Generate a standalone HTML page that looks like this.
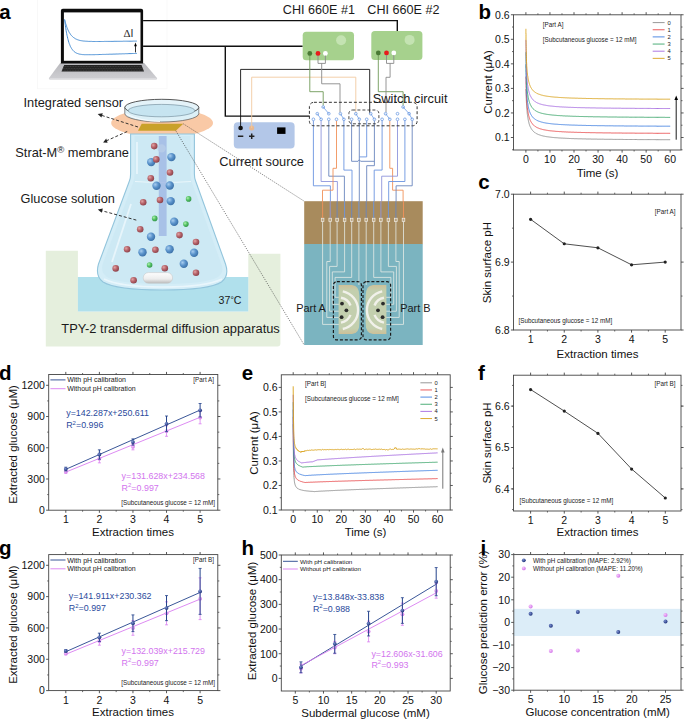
<!DOCTYPE html><html><head><meta charset="utf-8"><style>html,body{margin:0;padding:0;background:#fff;width:685px;height:719px;overflow:hidden}svg{display:block}</style></head><body>
<svg width="685" height="719" viewBox="0 0 685 719" font-family="Liberation Sans, sans-serif">
<defs><radialGradient id="gb" cx="0.35" cy="0.35" r="0.7"><stop offset="0" stop-color="#a8cdef"/><stop offset="0.5" stop-color="#5a93cb"/><stop offset="1" stop-color="#3a6fa6"/></radialGradient><radialGradient id="gr" cx="0.35" cy="0.35" r="0.7"><stop offset="0" stop-color="#e2a4a4"/><stop offset="0.5" stop-color="#b6636a"/><stop offset="1" stop-color="#8a4048"/></radialGradient><radialGradient id="gg" cx="0.35" cy="0.35" r="0.7"><stop offset="0" stop-color="#b0f0b0"/><stop offset="0.5" stop-color="#55c265"/><stop offset="1" stop-color="#329448"/></radialGradient><radialGradient id="pb" cx="0.35" cy="0.35" r="0.7"><stop offset="0" stop-color="#7a90d0"/><stop offset="1" stop-color="#1c2f78"/></radialGradient><radialGradient id="pp" cx="0.35" cy="0.35" r="0.7"><stop offset="0" stop-color="#f6c8fb"/><stop offset="1" stop-color="#d070e8"/></radialGradient><linearGradient id="lap" x1="0" y1="0" x2="0" y2="1"><stop offset="0" stop-color="#b9b9bd"/><stop offset="1" stop-color="#cfcfd3"/></linearGradient><linearGradient id="bar" x1="0" y1="0" x2="0" y2="1"><stop offset="0" stop-color="#a4bbe6" stop-opacity="0.1"/><stop offset="0.15" stop-color="#a4bbe6" stop-opacity="0.9"/><stop offset="1" stop-color="#9db4e3" stop-opacity="0.95"/></linearGradient></defs>
<rect width="685" height="719" fill="#fff"/>
<text x="-0.80" y="19.18" font-size="20.5" text-anchor="start" fill="#000" font-weight="bold" >a</text>
<rect x="37.5" y="-1" width="129.5" height="89.8" fill="none" stroke="#f7f7f7" stroke-width="0.8"/>
<path d="M48.8,78.2 L60.2,63.1 L144.2,63.1 L157.2,78.2 Q157.2,79.6 155.6,79.6 L50.4,79.6 Q48.8,79.6 48.8,78.2 Z" fill="url(#lap)"/>
<path d="M60.9,63.5 L60.9,10.7 Q60.9,8.7 62.9,8.7 L141.1,8.7 Q143.1,8.7 143.1,10.7 L143.1,63.5 Z" fill="#0c0c0c"/>
<rect x="63.9" y="12.4" width="76.6" height="48.4" fill="#fff"/>
<path d="M64.2,64.9 L141.5,64.9 L144,71.5 L61.5,71.5 Z" fill="#222"/>
<path d="M63.5,66.6 L142,66.6 M62.8,68.4 L142.8,68.4 M62.1,70.2 L143.5,70.2" stroke="#4a4a4a" stroke-width="0.7" stroke-dasharray="1.1,0.5"/>
<rect x="49.5" y="78.2" width="107" height="1.4" fill="#dedee2"/>
<polyline points="64.6,19.5 64.6,19.7 64.7,20.1 64.9,20.6 65.0,21.2 65.2,21.8 65.4,22.6 65.6,23.4 65.9,24.2 66.1,25.0 66.4,25.9 66.7,26.7 67.0,27.6 67.4,28.4 67.7,29.3 68.1,30.1 68.4,30.9 68.8,31.6 69.2,32.4 69.7,33.1 70.1,33.7 70.5,34.4 71.0,35.0 71.5,35.6 72.0,36.1 72.5,36.6 73.0,37.0 73.5,37.5 74.0,37.9 74.6,38.2 75.1,38.6 75.7,38.9 76.3,39.2 76.9,39.4 77.5,39.7 78.1,39.9 78.7,40.1 79.3,40.3 80.0,40.4 80.6,40.6 81.3,40.7 81.9,40.8 82.6,40.9 83.3,41.0 84.0,41.1 84.7,41.1 85.4,41.2 86.2,41.2 86.9,41.3 87.7,41.3 88.4,41.4 89.2,41.4 90.0,41.4 90.7,41.4 91.5,41.4 92.3,41.5 93.2,41.5 94.0,41.5 94.8,41.5 95.6,41.5 96.5,41.5 97.3,41.5 98.2,41.5 99.1,41.5 100.0,41.5 100.8,41.5 101.7,41.5 102.6,41.5 103.6,41.5 104.5,41.4 105.4,41.4 106.3,41.4 107.3,41.4 108.2,41.4 109.2,41.4 110.2,41.4 111.1,41.4 112.1,41.4 113.1,41.4 114.1,41.3 115.1,41.3 116.1,41.3 117.2,41.3 118.2,41.3 119.2,41.3 120.3,41.3 121.3,41.3 122.4,41.3 123.4,41.2 124.5,41.2 125.6,41.2 126.7,41.2 127.8,41.2 128.9,41.2 130.0,41.2 131.1,41.2 132.2,41.2 133.4,41.1 134.5,41.1 135.6,41.1 136.8,41.1" stroke="#4a8fd4" stroke-width="1.0" fill="none" />
<polyline points="64.6,19.5 64.6,19.9 64.7,20.7 64.9,21.7 65.0,22.9 65.2,24.3 65.4,25.7 65.6,27.3 65.9,28.9 66.1,30.5 66.4,32.1 66.7,33.7 67.0,35.3 67.4,36.8 67.7,38.3 68.1,39.7 68.4,41.0 68.8,42.3 69.2,43.5 69.7,44.6 70.1,45.7 70.5,46.7 71.0,47.5 71.5,48.4 72.0,49.1 72.5,49.8 73.0,50.4 73.5,51.0 74.0,51.5 74.6,51.9 75.1,52.3 75.7,52.7 76.3,53.0 76.9,53.3 77.5,53.5 78.1,53.7 78.7,53.9 79.3,54.1 80.0,54.2 80.6,54.3 81.3,54.4 81.9,54.5 82.6,54.6 83.3,54.6 84.0,54.7 84.7,54.7 85.4,54.7 86.2,54.7 86.9,54.7 87.7,54.7 88.4,54.7 89.2,54.7 90.0,54.7 90.7,54.7 91.5,54.7 92.3,54.7 93.2,54.7 94.0,54.7 94.8,54.7 95.6,54.6 96.5,54.6 97.3,54.6 98.2,54.6 99.1,54.5 100.0,54.5 100.8,54.5 101.7,54.5 102.6,54.4 103.6,54.4 104.5,54.4 105.4,54.4 106.3,54.3 107.3,54.3 108.2,54.3 109.2,54.2 110.2,54.2 111.1,54.2 112.1,54.2 113.1,54.1 114.1,54.1 115.1,54.1 116.1,54.0 117.2,54.0 118.2,54.0 119.2,53.9 120.3,53.9 121.3,53.9 122.4,53.8 123.4,53.8 124.5,53.8 125.6,53.7 126.7,53.7 127.8,53.7 128.9,53.6 130.0,53.6 131.1,53.6 132.2,53.5 133.4,53.5 134.5,53.5 135.6,53.4 136.8,53.4" stroke="#4a8fd4" stroke-width="1.0" fill="none" />
<text x="123.4" y="37.2" font-size="11" fill="#2a2a2a" font-family="Liberation Serif, serif">Δ<tspan font-family="Liberation Sans, sans-serif" font-size="10.5">I</tspan></text>
<line x1="135.50" y1="52.40" x2="135.50" y2="45.50" stroke="#000" stroke-width="0.8" />
<path d="M134.1,46.2 L135.5,42.4 L136.9,46.2 Z" fill="#000"/>
<rect x="233.8" y="122.2" width="60.8" height="26.3" rx="4" fill="#b3c7e8"/>
<circle cx="240.6" cy="128" r="2.3" fill="#111"/>
<circle cx="251.7" cy="128" r="2.5" fill="#e8b890"/>
<rect x="237.9" y="135.5" width="5.4" height="1.5" fill="#222"/>
<rect x="249" y="135.5" width="5.4" height="1.5" fill="#222"/><rect x="250.95" y="133.5" width="1.5" height="5.5" fill="#222"/>
<rect x="277.1" y="127.4" width="8.4" height="6.5" fill="#000"/>
<text x="219.30" y="165.91" font-size="12.8" text-anchor="start" fill="#1a1a1a" >Current source</text>
<polyline points="143.1,20.6 397.3,20.6 397.3,31.0" stroke="#111" stroke-width="1.4" fill="none" />
<polyline points="143.1,46.3 302.7,46.3" stroke="#111" stroke-width="1.4" fill="none" />
<polyline points="225.3,46.3 225.3,116.1 309.5,116.1" stroke="#111" stroke-width="1.4" fill="none" />
<polyline points="240.6,128.0 240.6,69.4 369.7,69.4 369.7,113.7" stroke="#111" stroke-width="0.9" fill="none" />
<polyline points="251.7,128.0 251.7,77.2 355.8,77.2 355.8,113.7" stroke="#f2c9a0" stroke-width="0.9" fill="none" />
<rect x="302.7" y="31.7" width="51.3" height="28.6" rx="3.5" fill="#a6d18d"/>
<circle cx="341.1" cy="40.3" r="5" fill="#c4e3b2"/>
<circle cx="309.8" cy="53.5" r="2.4" fill="#4a7a35"/>
<circle cx="318" cy="53.5" r="2.4" fill="#e81c1c"/>
<circle cx="325.4" cy="53.5" r="2.4" fill="#fff"/>
<rect x="371.3" y="31" width="51.1" height="28.9" rx="3.5" fill="#a6d18d"/>
<circle cx="409.6" cy="39.9" r="5" fill="#c4e3b2"/>
<circle cx="378.3" cy="53" r="2.4" fill="#4a7a35"/>
<circle cx="386.5" cy="53" r="2.4" fill="#e81c1c"/>
<circle cx="393.8" cy="53" r="2.4" fill="#fff"/>
<text x="282.80" y="13.74" font-size="12.6" text-anchor="start" fill="#1a1a1a" >CHI 660E #1</text>
<text x="367.30" y="13.74" font-size="12.6" text-anchor="start" fill="#1a1a1a" >CHI 660E #2</text>
<polyline points="309.8,55.5 309.8,91.7 323.2,91.7 323.2,105.5" stroke="#6f9a58" stroke-width="0.9" fill="none" />
<polyline points="318.0,55.5 318.0,63.4 325.4,63.4 325.4,55.5" stroke="#8a8a8a" stroke-width="0.9" fill="none" />
<polyline points="321.7,63.4 321.7,83.8 340.0,83.8 340.0,112.4" stroke="#8a8a8a" stroke-width="0.9" fill="none" />
<polyline points="378.3,55.0 378.3,91.7 403.1,91.7 403.1,105.5" stroke="#6f9a58" stroke-width="0.9" fill="none" />
<polyline points="386.5,55.0 386.5,63.4 393.8,63.4 393.8,55.0" stroke="#8a8a8a" stroke-width="0.9" fill="none" />
<polyline points="390.1,63.4 390.1,77.3 386.0,77.3 386.0,112.4" stroke="#8a8a8a" stroke-width="0.9" fill="none" />
<polyline points="313.4,120.6 313.4,185.8 330.4,185.8 330.4,201.5" stroke="#6b94e0" stroke-width="0.9" fill="none" />
<polyline points="321.1,120.6 321.1,181.5 337.4,181.5 337.4,201.5" stroke="#8f95dd" stroke-width="0.9" fill="none" />
<polyline points="328.8,120.6 328.8,176.2 344.4,176.2 344.4,201.5" stroke="#6a86bd" stroke-width="0.9" fill="none" />
<polyline points="336.5,120.6 336.5,168.3 333.0,168.3 333.0,190.2 322.5,190.2 322.5,201.5" stroke="#f0925a" stroke-width="0.9" fill="none" />
<polyline points="343.9,120.6 343.9,170.1 352.0,170.1 352.0,201.5" stroke="#6b94e0" stroke-width="0.9" fill="none" />
<polyline points="351.6,120.6 351.6,161.3 358.0,161.3 359.3,159.8 360.6,161.3 374.4,161.3" stroke="#6a86bd" stroke-width="0.9" fill="none" />
<polyline points="359.3,120.6 359.3,201.5" stroke="#6a86bd" stroke-width="0.9" fill="none" />
<polyline points="366.7,120.6 366.7,156.9 359.3,156.9" stroke="#6b94e0" stroke-width="0.9" fill="none" />
<polyline points="374.4,120.6 374.4,165.7 366.7,165.7 366.7,201.5" stroke="#6a86bd" stroke-width="0.9" fill="none" />
<polyline points="382.1,120.6 382.1,170.1 374.2,170.1 374.2,201.5" stroke="#6b94e0" stroke-width="0.9" fill="none" />
<polyline points="389.8,120.6 389.8,168.3 392.6,168.3 392.6,190.2 403.1,190.2 403.1,201.5" stroke="#f0925a" stroke-width="0.9" fill="none" />
<polyline points="397.5,120.6 397.5,176.2 381.7,176.2 381.7,201.5" stroke="#8f95dd" stroke-width="0.9" fill="none" />
<polyline points="404.9,120.6 404.9,181.5 388.7,181.5 388.7,201.5" stroke="#6b94e0" stroke-width="0.9" fill="none" />
<polyline points="412.2,120.6 412.2,185.8 396.1,185.8 396.1,201.5" stroke="#6a86bd" stroke-width="0.9" fill="none" />
<circle cx="313.4" cy="119.3" r="1.35" fill="#fff" stroke="#5b8fe0" stroke-width="0.7"/>
<circle cx="321.1" cy="119.3" r="1.35" fill="#fff" stroke="#5b8fe0" stroke-width="0.7"/>
<circle cx="328.8" cy="119.3" r="1.35" fill="#fff" stroke="#5b8fe0" stroke-width="0.7"/>
<circle cx="336.5" cy="119.3" r="1.35" fill="#fff" stroke="#5b8fe0" stroke-width="0.7"/>
<circle cx="343.9" cy="119.3" r="1.35" fill="#fff" stroke="#5b8fe0" stroke-width="0.7"/>
<circle cx="351.6" cy="119.3" r="1.35" fill="#fff" stroke="#5b8fe0" stroke-width="0.7"/>
<circle cx="359.3" cy="119.3" r="1.35" fill="#fff" stroke="#5b8fe0" stroke-width="0.7"/>
<circle cx="366.7" cy="119.3" r="1.35" fill="#fff" stroke="#5b8fe0" stroke-width="0.7"/>
<circle cx="374.4" cy="119.3" r="1.35" fill="#fff" stroke="#5b8fe0" stroke-width="0.7"/>
<circle cx="382.1" cy="119.3" r="1.35" fill="#fff" stroke="#5b8fe0" stroke-width="0.7"/>
<circle cx="389.8" cy="119.3" r="1.35" fill="#fff" stroke="#5b8fe0" stroke-width="0.7"/>
<circle cx="397.5" cy="119.3" r="1.35" fill="#fff" stroke="#5b8fe0" stroke-width="0.7"/>
<circle cx="404.9" cy="119.3" r="1.35" fill="#fff" stroke="#5b8fe0" stroke-width="0.7"/>
<circle cx="412.2" cy="119.3" r="1.35" fill="#fff" stroke="#5b8fe0" stroke-width="0.7"/>
<circle cx="317.3" cy="113.7" r="1.35" fill="#fff" stroke="#5b8fe0" stroke-width="0.7"/>
<circle cx="340.4" cy="113.7" r="1.35" fill="#fff" stroke="#5b8fe0" stroke-width="0.7"/>
<circle cx="355.8" cy="113.7" r="1.35" fill="#fff" stroke="#5b8fe0" stroke-width="0.7"/>
<circle cx="370.7" cy="113.7" r="1.35" fill="#fff" stroke="#5b8fe0" stroke-width="0.7"/>
<circle cx="385.6" cy="113.7" r="1.35" fill="#fff" stroke="#5b8fe0" stroke-width="0.7"/>
<circle cx="409.1" cy="113.7" r="1.35" fill="#fff" stroke="#5b8fe0" stroke-width="0.7"/>
<circle cx="328.8" cy="113.7" r="1.35" fill="#fff" stroke="#5b8fe0" stroke-width="0.7"/>
<circle cx="397.5" cy="113.7" r="1.35" fill="#fff" stroke="#5b8fe0" stroke-width="0.7"/>
<circle cx="323.2" cy="107.0" r="1.35" fill="#fff" stroke="#5b8fe0" stroke-width="0.7"/>
<circle cx="403.1" cy="107.0" r="1.35" fill="#fff" stroke="#5b8fe0" stroke-width="0.7"/>
<line x1="317.30" y1="113.70" x2="321.10" y2="119.30" stroke="#5b8fe0" stroke-width="0.7" />
<line x1="323.20" y1="107.00" x2="328.80" y2="113.70" stroke="#5b8fe0" stroke-width="0.7" />
<line x1="340.40" y1="113.70" x2="343.90" y2="119.30" stroke="#5b8fe0" stroke-width="0.7" />
<line x1="355.80" y1="113.70" x2="359.30" y2="119.30" stroke="#5b8fe0" stroke-width="0.7" />
<line x1="370.70" y1="113.70" x2="374.40" y2="119.30" stroke="#5b8fe0" stroke-width="0.7" />
<line x1="385.60" y1="113.70" x2="389.80" y2="119.30" stroke="#5b8fe0" stroke-width="0.7" />
<line x1="403.10" y1="107.00" x2="409.10" y2="113.70" stroke="#5b8fe0" stroke-width="0.7" />
<line x1="409.10" y1="113.70" x2="412.20" y2="119.30" stroke="#5b8fe0" stroke-width="0.7" />
<rect x="309.4" y="102.3" width="107.7" height="23.5" rx="4.5" fill="none" stroke="#333" stroke-width="1" stroke-dasharray="3,2"/>
<rect x="348.9" y="110" width="30" height="13.8" rx="3.5" fill="none" stroke="#333" stroke-width="0.9" stroke-dasharray="3,2"/>
<text x="372.80" y="103.41" font-size="12.8" text-anchor="start" fill="#1a1a1a" >Switch circuit</text>
<rect x="304.2" y="201.2" width="118.5" height="43" fill="#a88b5d"/>
<rect x="304.2" y="244" width="118.5" height="101" fill="#7bb4c0"/>
<polyline points="322.6,221.5 322.6,324.4 339.5,324.4" stroke="#e4ebe6" stroke-width="0.8" fill="none" />
<polyline points="403.5,221.5 403.5,324.4 385.5,324.4" stroke="#e4ebe6" stroke-width="0.8" fill="none" />
<polyline points="330.2,221.5 330.2,261.5 326.8,261.5 326.8,317.4 339.5,317.4" stroke="#e4ebe6" stroke-width="0.8" fill="none" />
<polyline points="395.9,221.5 395.9,261.5 399.2,261.5 399.2,317.4 385.5,317.4" stroke="#e4ebe6" stroke-width="0.8" fill="none" />
<polyline points="337.1,221.5 337.1,266.4 329.6,266.4 329.6,311.2 339.5,311.2" stroke="#e4ebe6" stroke-width="0.8" fill="none" />
<polyline points="388.4,221.5 388.4,266.4 396.4,266.4 396.4,311.2 385.5,311.2" stroke="#e4ebe6" stroke-width="0.8" fill="none" />
<polyline points="344.6,221.5 344.6,271.9 332.3,271.9 332.3,304.3 339.5,304.3" stroke="#e4ebe6" stroke-width="0.8" fill="none" />
<polyline points="380.9,221.5 380.9,271.9 393.7,271.9 393.7,304.3 385.5,304.3" stroke="#e4ebe6" stroke-width="0.8" fill="none" />
<polyline points="351.7,221.5 351.7,277.4 335.1,277.4 335.1,297.3 339.5,297.3" stroke="#e4ebe6" stroke-width="0.8" fill="none" />
<polyline points="373.7,221.5 373.7,277.4 390.9,277.4 390.9,297.3 385.5,297.3" stroke="#e4ebe6" stroke-width="0.8" fill="none" />
<polyline points="358.9,221.5 358.9,285.0" stroke="#e4ebe6" stroke-width="0.8" fill="none" />
<polyline points="366.2,221.5 366.2,285.0" stroke="#e4ebe6" stroke-width="0.8" fill="none" />
<rect x="321.3" y="218.2" width="2.6" height="3.2" fill="#b9a583" stroke="#f4f0ea" stroke-width="0.7"/>
<rect x="328.9" y="218.2" width="2.6" height="3.2" fill="#b9a583" stroke="#f4f0ea" stroke-width="0.7"/>
<rect x="335.8" y="218.2" width="2.6" height="3.2" fill="#b9a583" stroke="#f4f0ea" stroke-width="0.7"/>
<rect x="343.3" y="218.2" width="2.6" height="3.2" fill="#b9a583" stroke="#f4f0ea" stroke-width="0.7"/>
<rect x="350.4" y="218.2" width="2.6" height="3.2" fill="#b9a583" stroke="#f4f0ea" stroke-width="0.7"/>
<rect x="357.6" y="218.2" width="2.6" height="3.2" fill="#b9a583" stroke="#f4f0ea" stroke-width="0.7"/>
<rect x="364.9" y="218.2" width="2.6" height="3.2" fill="#b9a583" stroke="#f4f0ea" stroke-width="0.7"/>
<rect x="372.4" y="218.2" width="2.6" height="3.2" fill="#b9a583" stroke="#f4f0ea" stroke-width="0.7"/>
<rect x="379.6" y="218.2" width="2.6" height="3.2" fill="#b9a583" stroke="#f4f0ea" stroke-width="0.7"/>
<rect x="387.1" y="218.2" width="2.6" height="3.2" fill="#b9a583" stroke="#f4f0ea" stroke-width="0.7"/>
<rect x="394.6" y="218.2" width="2.6" height="3.2" fill="#b9a583" stroke="#f4f0ea" stroke-width="0.7"/>
<rect x="402.2" y="218.2" width="2.6" height="3.2" fill="#b9a583" stroke="#f4f0ea" stroke-width="0.7"/>
<line x1="322.60" y1="201.20" x2="322.60" y2="218.00" stroke="#f0925a" stroke-width="0.9" />
<line x1="330.20" y1="201.20" x2="330.20" y2="218.00" stroke="#8f95dd" stroke-width="0.9" />
<line x1="337.10" y1="201.20" x2="337.10" y2="218.00" stroke="#6a86bd" stroke-width="0.9" />
<line x1="344.60" y1="201.20" x2="344.60" y2="218.00" stroke="#6b94e0" stroke-width="0.9" />
<line x1="351.70" y1="201.20" x2="351.70" y2="218.00" stroke="#6a86bd" stroke-width="0.9" />
<line x1="358.90" y1="201.20" x2="358.90" y2="218.00" stroke="#6b94e0" stroke-width="0.9" />
<line x1="366.20" y1="201.20" x2="366.20" y2="218.00" stroke="#6a86bd" stroke-width="0.9" />
<line x1="373.70" y1="201.20" x2="373.70" y2="218.00" stroke="#6b94e0" stroke-width="0.9" />
<line x1="380.90" y1="201.20" x2="380.90" y2="218.00" stroke="#8f95dd" stroke-width="0.9" />
<line x1="388.40" y1="201.20" x2="388.40" y2="218.00" stroke="#6b94e0" stroke-width="0.9" />
<line x1="395.90" y1="201.20" x2="395.90" y2="218.00" stroke="#6a86bd" stroke-width="0.9" />
<line x1="403.50" y1="201.20" x2="403.50" y2="218.00" stroke="#f0925a" stroke-width="0.9" />
<linearGradient id="eg" x1="0" y1="0" x2="0" y2="1"><stop offset="0" stop-color="#cdbf98"/><stop offset="0.12" stop-color="#c3cfae"/><stop offset="0.88" stop-color="#c3cfae"/><stop offset="1" stop-color="#cdbf98"/></linearGradient>
<path d="M338.6,284.9 L352,284.9 Q359.4,285.5 359.4,296 L359.4,323 Q359.4,333.5 352,334.1 L338.6,334.1 Z" fill="url(#eg)"/>
<path d="M386.4,284.9 L373,284.9 Q365.6,285.5 365.6,296 L365.6,323 Q365.6,333.5 373,334.1 L386.4,334.1 Z" fill="url(#eg)"/>
<path d="M342.8,291.4 A19.2,19.2 0 0 1 342.8,329.0" fill="none" stroke="#f1f1ea" stroke-width="2.4"/>
<path d="M341.0,297.8 A12.6,12.6 0 0 1 350.5,305.5" fill="none" stroke="#f1f1ea" stroke-width="2.4"/>
<path d="M350.5,314.9 A12.6,12.6 0 0 1 341.0,322.6" fill="none" stroke="#f1f1ea" stroke-width="2.4"/>
<path d="M382.2,291.4 A19.2,19.2 0 0 0 382.2,329.0" fill="none" stroke="#f1f1ea" stroke-width="2.4"/>
<path d="M384.0,297.8 A12.6,12.6 0 0 0 374.5,305.5" fill="none" stroke="#f1f1ea" stroke-width="2.4"/>
<path d="M374.5,314.9 A12.6,12.6 0 0 0 384.0,322.6" fill="none" stroke="#f1f1ea" stroke-width="2.4"/>
<circle cx="342" cy="303.6" r="1.9" fill="#2b2b2b"/>
<circle cx="346.4" cy="310.3" r="1.9" fill="#2b2b2b"/>
<circle cx="341.6" cy="317.2" r="1.9" fill="#2b2b2b"/>
<circle cx="383" cy="303.6" r="1.9" fill="#2b2b2b"/>
<circle cx="378" cy="310.3" r="1.9" fill="#2b2b2b"/>
<circle cx="382.6" cy="317.2" r="1.9" fill="#2b2b2b"/>
<rect x="333.4" y="281.6" width="28" height="58.3" rx="3.5" fill="none" stroke="#1a1a1a" stroke-width="1.15" stroke-dasharray="3,1.9"/>
<rect x="363" y="281.6" width="27.6" height="58.3" rx="3.5" fill="none" stroke="#1a1a1a" stroke-width="1.15" stroke-dasharray="3,1.9"/>
<text x="296.20" y="311.52" font-size="10.9" text-anchor="start" fill="#1a1a1a" >Part A</text>
<text x="400.30" y="311.52" font-size="10.9" text-anchor="start" fill="#1a1a1a" >Part B</text>
<path d="M45.8,250.7 L77.9,250.7 L77.9,311.5 L248.3,311.5 L248.3,253.8 L280.4,253.8 L280.4,343.5 Q280.4,346.5 277.4,346.5 L45.8,346.5 Z" fill="#e5efdd"/>
<rect x="77.9" y="277" width="170.4" height="34.5" fill="#b0e0ec"/>
<text x="218.60" y="304.42" font-size="10.6" text-anchor="start" fill="#1a1a1a" >37<tspan font-size="8.5" dy="-1">°</tspan><tspan dy="1">C</tspan></text>
<text x="61.30" y="333.23" font-size="12.85" text-anchor="start" fill="#1a1a1a" >TPY-2 transdermal diffusion apparatus</text>
<ellipse cx="162.1" cy="122.9" rx="50.9" ry="14.2" fill="#f9c9a6"/>
<path d="M130.6,134 L130.6,174 Q130.6,178 129.4,181 L98.5,264 Q95,276 103,282 Q116,290 162.5,290 Q209,290 221.5,282 Q229.5,276 225.5,264 L195.6,181 Q194.4,178 194.4,174 L194.4,134 Z" fill="#d4edf7" stroke="#93c5dc" stroke-width="1.1"/>
<path d="M134.5,136 L134.5,174 Q134.5,179 133,183 L103,263 Q100,272 107,277 Q119,284 162.5,284 Q206,284 218,277 Q225,272 221,263 L192,183 Q190.5,179 190.5,174 L190.5,136 Z" fill="#cde9f4"/>
<path d="M135,181.5 Q163,183.5 191,181.5" stroke="#e9f6fb" stroke-width="1.2" fill="none"/>
<path d="M137,142 L137,174 M112,262 L131,204" stroke="#eef8fc" stroke-width="1.8" fill="none" opacity="0.8"/>
<path d="M104,279 Q120,287 163,287 Q206,287 222,279" stroke="#eef8fc" stroke-width="1.4" fill="none" opacity="0.8"/>
<rect x="158.8" y="136" width="7.8" height="100" fill="#9fb6e4" opacity="0.8"/>
<circle cx="161.6" cy="148.4" r="4.2" fill="#b8cde8" opacity="0.8"/>
<circle cx="154.2" cy="146.1" r="3.3" fill="url(#gr)"/>
<circle cx="151.2" cy="162.1" r="4.2" fill="url(#gb)"/>
<circle cx="156.3" cy="159.4" r="3.3" fill="url(#gr)"/>
<circle cx="171.4" cy="157.1" r="4.2" fill="url(#gb)"/>
<circle cx="170" cy="172.5" r="3.3" fill="url(#gr)"/>
<circle cx="150.8" cy="178.2" r="3.3" fill="url(#gr)"/>
<circle cx="156.5" cy="185.8" r="4.2" fill="url(#gb)"/>
<circle cx="169.8" cy="185.5" r="4.2" fill="url(#gb)"/>
<circle cx="143.2" cy="202.3" r="3.3" fill="url(#gr)"/>
<circle cx="160" cy="200" r="3.3" fill="url(#gr)"/>
<circle cx="170.7" cy="201.1" r="4.2" fill="url(#gb)"/>
<circle cx="188.6" cy="198.9" r="2.8" fill="url(#gg)"/>
<circle cx="154.7" cy="218.4" r="2.8" fill="url(#gg)"/>
<circle cx="174.2" cy="221.8" r="4.2" fill="url(#gb)"/>
<circle cx="185.9" cy="224.1" r="2.8" fill="url(#gg)"/>
<circle cx="140.2" cy="229.2" r="3.3" fill="url(#gr)"/>
<circle cx="151" cy="236.7" r="4.2" fill="url(#gb)"/>
<circle cx="179.5" cy="235.1" r="3.3" fill="url(#gr)"/>
<circle cx="196" cy="242" r="3.3" fill="url(#gr)"/>
<circle cx="127.1" cy="249.3" r="3.3" fill="url(#gr)"/>
<circle cx="142.5" cy="252.3" r="4.2" fill="url(#gb)"/>
<circle cx="155.4" cy="249.8" r="3.3" fill="url(#gr)"/>
<circle cx="169.6" cy="249.3" r="4.2" fill="url(#gb)"/>
<circle cx="194.1" cy="252.8" r="4.2" fill="url(#gb)"/>
<circle cx="149.6" cy="265" r="2.8" fill="url(#gg)"/>
<circle cx="164.8" cy="268.2" r="3.3" fill="url(#gr)"/>
<circle cx="183.8" cy="263.8" r="4.2" fill="url(#gb)"/>
<circle cx="115.7" cy="268.4" r="3.3" fill="url(#gr)"/>
<circle cx="196" cy="272.8" r="3.3" fill="url(#gr)"/>
<circle cx="133.6" cy="280.3" r="3.3" fill="url(#gr)"/>
<linearGradient id="sb" x1="0" y1="0" x2="0" y2="1"><stop offset="0" stop-color="#fdfdfd"/><stop offset="0.6" stop-color="#ededed"/><stop offset="1" stop-color="#bdbdbd"/></linearGradient><rect x="143.2" y="272.6" width="29.4" height="10.6" rx="5.3" fill="url(#sb)" stroke="#c4c4c4" stroke-width="0.5"/>
<path d="M124.8,107.4 L124.8,113.6 A37,8.4 0 0 0 198.8,113.6 L198.8,107.4 Z" fill="#dcf0f7" stroke="#555" stroke-width="0.7"/>
<ellipse cx="161.8" cy="107.4" rx="37" ry="8.1" fill="#e4f3f9" stroke="#444" stroke-width="0.9"/>
<ellipse cx="161.5" cy="110.6" rx="33.3" ry="6.2" fill="#c6e4f0" stroke="#6b8795" stroke-width="0.6"/>
<path d="M126,114 Q140,121 160,121.5" stroke="#f6fbfd" stroke-width="1.2" fill="none" opacity="0.9"/>
<path d="M141.7,123.8 L183.3,123.8 L175.8,130.7 L138,130.7 Z" fill="#c9a12a"/>
<line x1="138" y1="127" x2="100.5" y2="115" stroke="#222" stroke-width="0.9" stroke-dasharray="3,2"/>
<path d="M97.7,114 L102.8,113.2 L101.4,117.6 Z" fill="#222"/>
<line x1="127.2" y1="131.5" x2="106" y2="141" stroke="#222" stroke-width="0.9" stroke-dasharray="3,2"/>
<path d="M103.1,142.6 L106.2,138.6 L107.6,142.8 Z" fill="#222"/>
<line x1="136.3" y1="220.1" x2="101" y2="210.5" stroke="#222" stroke-width="0.9" stroke-dasharray="3,2"/>
<path d="M97.8,209.5 L102.8,208.4 L101.7,212.8 Z" fill="#222"/>
<text x="23.50" y="107.11" font-size="12.8" text-anchor="start" fill="#1a1a1a" >Integrated sensor</text>
<text x="15.30" y="156.91" font-size="12.8" text-anchor="start" fill="#1a1a1a" >Strat-M<tspan font-size="9.5" dy="-3.5">®</tspan><tspan dy="3.5"> membrane</tspan></text>
<text x="20.60" y="203.09" font-size="12.75" text-anchor="start" fill="#1a1a1a" >Glucose solution</text>
<line x1="183.30" y1="123.80" x2="304.20" y2="201.20" stroke="#333" stroke-width="0.6" stroke-dasharray="1.2,1.2"/>
<line x1="175.80" y1="130.70" x2="304.20" y2="345.00" stroke="#333" stroke-width="0.6" stroke-dasharray="1.2,1.2"/>
<text x="478.50" y="18.88" font-size="20.5" text-anchor="start" fill="#000" font-weight="bold" >b</text>
<polyline points="525.9,89.0 525.9,89.0 525.9,89.2 525.9,89.5 525.9,89.8 525.9,90.3 526.0,90.9 526.0,91.6 526.0,92.3 526.0,93.1 526.1,94.0 526.1,94.9 526.1,95.9 526.2,96.9 526.2,97.9 526.3,98.9 526.3,100.0 526.4,101.1 526.4,102.1 526.5,103.2 526.5,104.2 526.6,105.3 526.7,106.3 526.7,107.3 526.8,108.3 526.9,109.3 527.0,110.2 527.1,111.1 527.2,112.0 527.2,112.9 527.3,113.8 527.4,114.6 527.5,115.4 527.6,116.2 527.8,116.9 527.9,117.6 528.0,118.3 528.1,119.0 528.2,119.7 528.3,120.3 528.5,120.9 528.6,121.5 528.7,122.0 528.9,122.6 529.0,123.1 529.1,123.6 529.3,124.1 529.4,124.6 529.6,125.0 529.7,125.5 529.9,125.9 530.1,126.3 530.2,126.7 530.4,127.0 530.6,127.4 530.8,127.7 530.9,128.1 531.1,128.4 531.3,128.7 531.5,129.0 531.7,129.3 531.9,129.6 532.1,129.9 532.3,130.1 532.5,130.4 532.7,130.6 532.9,130.9 533.1,131.1 533.3,131.3 533.5,131.5 533.8,131.7 534.0,131.9 534.2,132.1 534.4,132.3 534.7,132.5 534.9,132.7 535.2,132.8 535.4,133.0 535.7,133.1 535.9,133.3 536.2,133.5 536.4,133.6 536.7,133.7 536.9,133.9 537.2,134.0 537.5,134.1 537.8,134.3 538.0,134.4 538.3,134.5 538.6,134.6 538.9,134.7 539.2,134.8 539.5,134.9 539.8,135.0 540.1,135.1 540.4,135.2 540.7,135.3 541.0,135.4 541.3,135.5 541.6,135.6 541.9,135.7 542.3,135.8 542.6,135.8 542.9,135.9 543.2,136.0 543.6,136.1 543.9,136.1 544.3,136.2 544.6,136.3 544.9,136.3 545.3,136.4 545.7,136.5 546.0,136.5 546.4,136.6 546.7,136.7 547.1,136.7 547.5,136.8 547.8,136.8 548.2,136.9 548.6,136.9 549.0,137.0 549.4,137.0 549.8,137.1 550.2,137.1 550.6,137.2 551.0,137.2 551.4,137.3 551.8,137.3 552.2,137.4 552.6,137.4 553.0,137.4 553.4,137.5 553.8,137.5 554.3,137.6 554.7,137.6 555.1,137.6 555.6,137.7 556.0,137.7 556.4,137.7 556.9,137.8 557.3,137.8 557.8,137.8 558.2,137.9 558.7,137.9 559.1,137.9 559.6,138.0 560.1,138.0 560.5,138.0 561.0,138.1 561.5,138.1 562.0,138.1 562.5,138.1 562.9,138.2 563.4,138.2 563.9,138.2 564.4,138.2 564.9,138.3 565.4,138.3 565.9,138.3 566.4,138.3 566.9,138.4 567.5,138.4 568.0,138.4 568.5,138.4 569.0,138.5 569.6,138.5 570.1,138.5 570.6,138.5 571.2,138.5 571.7,138.6 572.2,138.6 572.8,138.6 573.3,138.6 573.9,138.6 574.4,138.7 575.0,138.7 575.6,138.7 576.1,138.7 576.7,138.7 577.3,138.7 577.8,138.8 578.4,138.8 579.0,138.8 579.6,138.8 580.2,138.8 580.8,138.8 581.4,138.8 582.0,138.9 582.6,138.9 583.2,138.9 583.8,138.9 584.4,138.9 585.0,138.9 585.6,138.9 586.2,139.0 586.9,139.0 587.5,139.0 588.1,139.0 588.8,139.0 589.4,139.0 590.0,139.0 590.7,139.0 591.3,139.1 592.0,139.1 592.6,139.1 593.3,139.1 593.9,139.1 594.6,139.1 595.3,139.1 595.9,139.1 596.6,139.1 597.3,139.2 598.0,139.2 598.6,139.2 599.3,139.2 600.0,139.2 600.7,139.2 601.4,139.2 602.1,139.2 602.8,139.2 603.5,139.2 604.2,139.3 604.9,139.3 605.6,139.3 606.3,139.3 607.1,139.3 607.8,139.3 608.5,139.3 609.2,139.3 610.0,139.3 610.7,139.3 611.5,139.3 612.2,139.3 612.9,139.4 613.7,139.4 614.4,139.4 615.2,139.4 616.0,139.4 616.7,139.4 617.5,139.4 618.3,139.4 619.0,139.4 619.8,139.4 620.6,139.4 621.4,139.4 622.1,139.4 622.9,139.4 623.7,139.5 624.5,139.5 625.3,139.5 626.1,139.5 626.9,139.5 627.7,139.5 628.5,139.5 629.3,139.5 630.2,139.5 631.0,139.5 631.8,139.5 632.6,139.5 633.5,139.5 634.3,139.5 635.1,139.5 636.0,139.5 636.8,139.5 637.6,139.6 638.5,139.6 639.3,139.6 640.2,139.6 641.1,139.6 641.9,139.6 642.8,139.6 643.7,139.6 644.5,139.6 645.4,139.6 646.3,139.6 647.2,139.6 648.0,139.6 648.9,139.6 649.8,139.6 650.7,139.6 651.6,139.6 652.5,139.6 653.4,139.6 654.3,139.6 655.2,139.6 656.1,139.7 657.0,139.7 658.0,139.7 658.9,139.7 659.8,139.7 660.7,139.7 661.7,139.7 662.6,139.7 663.5,139.7 664.5,139.7 665.4,139.7 666.4,139.7 667.3,139.7 668.3,139.7 669.2,139.7 670.2,139.7" stroke="#8c8c8c" stroke-width="0.9" fill="none" />
<polyline points="525.9,76.7 525.9,76.8 525.9,77.0 525.9,77.5 525.9,78.1 525.9,78.8 526.0,79.7 526.0,80.7 526.0,81.8 526.0,83.0 526.1,84.2 526.1,85.5 526.1,86.8 526.2,88.2 526.2,89.5 526.3,90.9 526.3,92.2 526.4,93.5 526.4,94.8 526.5,96.0 526.5,97.2 526.6,98.4 526.7,99.5 526.7,100.6 526.8,101.7 526.9,102.7 527.0,103.7 527.1,104.7 527.2,105.6 527.2,106.5 527.3,107.4 527.4,108.2 527.5,109.0 527.6,109.8 527.8,110.5 527.9,111.2 528.0,112.0 528.1,112.6 528.2,113.3 528.3,113.9 528.5,114.5 528.6,115.1 528.7,115.7 528.9,116.2 529.0,116.7 529.1,117.2 529.3,117.7 529.4,118.2 529.6,118.6 529.7,119.1 529.9,119.5 530.1,119.9 530.2,120.3 530.4,120.7 530.6,121.0 530.8,121.4 530.9,121.7 531.1,122.0 531.3,122.3 531.5,122.6 531.7,122.9 531.9,123.2 532.1,123.5 532.3,123.7 532.5,124.0 532.7,124.2 532.9,124.5 533.1,124.7 533.3,124.9 533.5,125.1 533.8,125.3 534.0,125.5 534.2,125.7 534.4,125.9 534.7,126.1 534.9,126.3 535.2,126.4 535.4,126.6 535.7,126.8 535.9,126.9 536.2,127.1 536.4,127.2 536.7,127.4 536.9,127.5 537.2,127.6 537.5,127.8 537.8,127.9 538.0,128.0 538.3,128.1 538.6,128.2 538.9,128.3 539.2,128.4 539.5,128.6 539.8,128.7 540.1,128.8 540.4,128.9 540.7,128.9 541.0,129.0 541.3,129.1 541.6,129.2 541.9,129.3 542.3,129.4 542.6,129.5 542.9,129.5 543.2,129.6 543.6,129.7 543.9,129.8 544.3,129.8 544.6,129.9 544.9,130.0 545.3,130.0 545.7,130.1 546.0,130.2 546.4,130.2 546.7,130.3 547.1,130.3 547.5,130.4 547.8,130.4 548.2,130.5 548.6,130.6 549.0,130.6 549.4,130.7 549.8,130.7 550.2,130.8 550.6,130.8 551.0,130.8 551.4,130.9 551.8,130.9 552.2,131.0 552.6,131.0 553.0,131.1 553.4,131.1 553.8,131.1 554.3,131.2 554.7,131.2 555.1,131.3 555.6,131.3 556.0,131.3 556.4,131.4 556.9,131.4 557.3,131.4 557.8,131.5 558.2,131.5 558.7,131.5 559.1,131.6 559.6,131.6 560.1,131.6 560.5,131.6 561.0,131.7 561.5,131.7 562.0,131.7 562.5,131.8 562.9,131.8 563.4,131.8 563.9,131.8 564.4,131.9 564.9,131.9 565.4,131.9 565.9,131.9 566.4,132.0 566.9,132.0 567.5,132.0 568.0,132.0 568.5,132.1 569.0,132.1 569.6,132.1 570.1,132.1 570.6,132.1 571.2,132.2 571.7,132.2 572.2,132.2 572.8,132.2 573.3,132.2 573.9,132.2 574.4,132.3 575.0,132.3 575.6,132.3 576.1,132.3 576.7,132.3 577.3,132.4 577.8,132.4 578.4,132.4 579.0,132.4 579.6,132.4 580.2,132.4 580.8,132.4 581.4,132.5 582.0,132.5 582.6,132.5 583.2,132.5 583.8,132.5 584.4,132.5 585.0,132.5 585.6,132.6 586.2,132.6 586.9,132.6 587.5,132.6 588.1,132.6 588.8,132.6 589.4,132.6 590.0,132.7 590.7,132.7 591.3,132.7 592.0,132.7 592.6,132.7 593.3,132.7 593.9,132.7 594.6,132.7 595.3,132.7 595.9,132.8 596.6,132.8 597.3,132.8 598.0,132.8 598.6,132.8 599.3,132.8 600.0,132.8 600.7,132.8 601.4,132.8 602.1,132.8 602.8,132.9 603.5,132.9 604.2,132.9 604.9,132.9 605.6,132.9 606.3,132.9 607.1,132.9 607.8,132.9 608.5,132.9 609.2,132.9 610.0,132.9 610.7,132.9 611.5,133.0 612.2,133.0 612.9,133.0 613.7,133.0 614.4,133.0 615.2,133.0 616.0,133.0 616.7,133.0 617.5,133.0 618.3,133.0 619.0,133.0 619.8,133.0 620.6,133.0 621.4,133.0 622.1,133.1 622.9,133.1 623.7,133.1 624.5,133.1 625.3,133.1 626.1,133.1 626.9,133.1 627.7,133.1 628.5,133.1 629.3,133.1 630.2,133.1 631.0,133.1 631.8,133.1 632.6,133.1 633.5,133.1 634.3,133.1 635.1,133.2 636.0,133.2 636.8,133.2 637.6,133.2 638.5,133.2 639.3,133.2 640.2,133.2 641.1,133.2 641.9,133.2 642.8,133.2 643.7,133.2 644.5,133.2 645.4,133.2 646.3,133.2 647.2,133.2 648.0,133.2 648.9,133.2 649.8,133.2 650.7,133.2 651.6,133.2 652.5,133.2 653.4,133.3 654.3,133.3 655.2,133.3 656.1,133.3 657.0,133.3 658.0,133.3 658.9,133.3 659.8,133.3 660.7,133.3 661.7,133.3 662.6,133.3 663.5,133.3 664.5,133.3 665.4,133.3 666.4,133.3 667.3,133.3 668.3,133.3 669.2,133.3 670.2,133.3" stroke="#e8474a" stroke-width="0.9" fill="none" />
<polyline points="525.9,64.4 525.9,64.5 525.9,64.9 525.9,65.4 525.9,66.2 525.9,67.2 526.0,68.3 526.0,69.6 526.0,71.0 526.0,72.6 526.1,74.1 526.1,75.7 526.1,77.4 526.2,79.0 526.2,80.7 526.3,82.3 526.3,83.8 526.4,85.3 526.4,86.8 526.5,88.2 526.5,89.5 526.6,90.8 526.7,92.1 526.7,93.2 526.8,94.4 526.9,95.4 527.0,96.5 527.1,97.5 527.2,98.4 527.2,99.3 527.3,100.2 527.4,101.0 527.5,101.9 527.6,102.6 527.8,103.4 527.9,104.1 528.0,104.8 528.1,105.5 528.2,106.2 528.3,106.8 528.5,107.4 528.6,108.0 528.7,108.5 528.9,109.1 529.0,109.6 529.1,110.1 529.3,110.6 529.4,111.1 529.6,111.5 529.7,111.9 529.9,112.4 530.1,112.8 530.2,113.2 530.4,113.5 530.6,113.9 530.8,114.2 530.9,114.6 531.1,114.9 531.3,115.2 531.5,115.5 531.7,115.8 531.9,116.1 532.1,116.4 532.3,116.6 532.5,116.9 532.7,117.1 532.9,117.4 533.1,117.6 533.3,117.8 533.5,118.0 533.8,118.2 534.0,118.4 534.2,118.6 534.4,118.8 534.7,119.0 534.9,119.2 535.2,119.3 535.4,119.5 535.7,119.6 535.9,119.8 536.2,119.9 536.4,120.1 536.7,120.2 536.9,120.4 537.2,120.5 537.5,120.6 537.8,120.8 538.0,120.9 538.3,121.0 538.6,121.1 538.9,121.2 539.2,121.3 539.5,121.4 539.8,121.5 540.1,121.6 540.4,121.7 540.7,121.8 541.0,121.9 541.3,122.0 541.6,122.1 541.9,122.2 542.3,122.3 542.6,122.3 542.9,122.4 543.2,122.5 543.6,122.6 543.9,122.6 544.3,122.7 544.6,122.8 544.9,122.8 545.3,122.9 545.7,123.0 546.0,123.0 546.4,123.1 546.7,123.2 547.1,123.2 547.5,123.3 547.8,123.3 548.2,123.4 548.6,123.4 549.0,123.5 549.4,123.5 549.8,123.6 550.2,123.6 550.6,123.7 551.0,123.7 551.4,123.8 551.8,123.8 552.2,123.9 552.6,123.9 553.0,123.9 553.4,124.0 553.8,124.0 554.3,124.1 554.7,124.1 555.1,124.1 555.6,124.2 556.0,124.2 556.4,124.2 556.9,124.3 557.3,124.3 557.8,124.3 558.2,124.4 558.7,124.4 559.1,124.4 559.6,124.5 560.1,124.5 560.5,124.5 561.0,124.6 561.5,124.6 562.0,124.6 562.5,124.6 562.9,124.7 563.4,124.7 563.9,124.7 564.4,124.7 564.9,124.8 565.4,124.8 565.9,124.8 566.4,124.8 566.9,124.9 567.5,124.9 568.0,124.9 568.5,124.9 569.0,125.0 569.6,125.0 570.1,125.0 570.6,125.0 571.2,125.0 571.7,125.1 572.2,125.1 572.8,125.1 573.3,125.1 573.9,125.1 574.4,125.1 575.0,125.2 575.6,125.2 576.1,125.2 576.7,125.2 577.3,125.2 577.8,125.3 578.4,125.3 579.0,125.3 579.6,125.3 580.2,125.3 580.8,125.3 581.4,125.3 582.0,125.4 582.6,125.4 583.2,125.4 583.8,125.4 584.4,125.4 585.0,125.4 585.6,125.4 586.2,125.5 586.9,125.5 587.5,125.5 588.1,125.5 588.8,125.5 589.4,125.5 590.0,125.5 590.7,125.5 591.3,125.6 592.0,125.6 592.6,125.6 593.3,125.6 593.9,125.6 594.6,125.6 595.3,125.6 595.9,125.6 596.6,125.6 597.3,125.7 598.0,125.7 598.6,125.7 599.3,125.7 600.0,125.7 600.7,125.7 601.4,125.7 602.1,125.7 602.8,125.7 603.5,125.7 604.2,125.7 604.9,125.8 605.6,125.8 606.3,125.8 607.1,125.8 607.8,125.8 608.5,125.8 609.2,125.8 610.0,125.8 610.7,125.8 611.5,125.8 612.2,125.8 612.9,125.8 613.7,125.9 614.4,125.9 615.2,125.9 616.0,125.9 616.7,125.9 617.5,125.9 618.3,125.9 619.0,125.9 619.8,125.9 620.6,125.9 621.4,125.9 622.1,125.9 622.9,125.9 623.7,125.9 624.5,126.0 625.3,126.0 626.1,126.0 626.9,126.0 627.7,126.0 628.5,126.0 629.3,126.0 630.2,126.0 631.0,126.0 631.8,126.0 632.6,126.0 633.5,126.0 634.3,126.0 635.1,126.0 636.0,126.0 636.8,126.0 637.6,126.0 638.5,126.1 639.3,126.1 640.2,126.1 641.1,126.1 641.9,126.1 642.8,126.1 643.7,126.1 644.5,126.1 645.4,126.1 646.3,126.1 647.2,126.1 648.0,126.1 648.9,126.1 649.8,126.1 650.7,126.1 651.6,126.1 652.5,126.1 653.4,126.1 654.3,126.1 655.2,126.1 656.1,126.1 657.0,126.2 658.0,126.2 658.9,126.2 659.8,126.2 660.7,126.2 661.7,126.2 662.6,126.2 663.5,126.2 664.5,126.2 665.4,126.2 666.4,126.2 667.3,126.2 668.3,126.2 669.2,126.2 670.2,126.2" stroke="#3f7fe0" stroke-width="0.9" fill="none" />
<polyline points="525.9,52.1 525.9,52.3 525.9,52.7 525.9,53.3 525.9,54.2 525.9,55.4 526.0,56.7 526.0,58.2 526.0,59.8 526.0,61.5 526.1,63.3 526.1,65.2 526.1,67.0 526.2,68.9 526.2,70.7 526.3,72.4 526.3,74.2 526.4,75.8 526.4,77.4 526.5,78.9 526.5,80.3 526.6,81.7 526.7,83.0 526.7,84.2 526.8,85.4 526.9,86.5 527.0,87.5 527.1,88.6 527.2,89.5 527.2,90.4 527.3,91.3 527.4,92.2 527.5,93.0 527.6,93.8 527.8,94.6 527.9,95.3 528.0,96.0 528.1,96.7 528.2,97.3 528.3,97.9 528.5,98.6 528.6,99.1 528.7,99.7 528.9,100.2 529.0,100.8 529.1,101.3 529.3,101.8 529.4,102.2 529.6,102.7 529.7,103.1 529.9,103.5 530.1,103.9 530.2,104.3 530.4,104.7 530.6,105.1 530.8,105.4 530.9,105.7 531.1,106.1 531.3,106.4 531.5,106.7 531.7,107.0 531.9,107.2 532.1,107.5 532.3,107.8 532.5,108.0 532.7,108.3 532.9,108.5 533.1,108.7 533.3,109.0 533.5,109.2 533.8,109.4 534.0,109.6 534.2,109.8 534.4,110.0 534.7,110.1 534.9,110.3 535.2,110.5 535.4,110.6 535.7,110.8 535.9,111.0 536.2,111.1 536.4,111.3 536.7,111.4 536.9,111.5 537.2,111.7 537.5,111.8 537.8,111.9 538.0,112.0 538.3,112.2 538.6,112.3 538.9,112.4 539.2,112.5 539.5,112.6 539.8,112.7 540.1,112.8 540.4,112.9 540.7,113.0 541.0,113.1 541.3,113.2 541.6,113.3 541.9,113.3 542.3,113.4 542.6,113.5 542.9,113.6 543.2,113.7 543.6,113.7 543.9,113.8 544.3,113.9 544.6,113.9 544.9,114.0 545.3,114.1 545.7,114.1 546.0,114.2 546.4,114.3 546.7,114.3 547.1,114.4 547.5,114.4 547.8,114.5 548.2,114.5 548.6,114.6 549.0,114.6 549.4,114.7 549.8,114.7 550.2,114.8 550.6,114.8 551.0,114.9 551.4,114.9 551.8,115.0 552.2,115.0 552.6,115.1 553.0,115.1 553.4,115.1 553.8,115.2 554.3,115.2 554.7,115.3 555.1,115.3 555.6,115.3 556.0,115.4 556.4,115.4 556.9,115.4 557.3,115.5 557.8,115.5 558.2,115.5 558.7,115.6 559.1,115.6 559.6,115.6 560.1,115.7 560.5,115.7 561.0,115.7 561.5,115.7 562.0,115.8 562.5,115.8 562.9,115.8 563.4,115.9 563.9,115.9 564.4,115.9 564.9,115.9 565.4,116.0 565.9,116.0 566.4,116.0 566.9,116.0 567.5,116.0 568.0,116.1 568.5,116.1 569.0,116.1 569.6,116.1 570.1,116.2 570.6,116.2 571.2,116.2 571.7,116.2 572.2,116.2 572.8,116.3 573.3,116.3 573.9,116.3 574.4,116.3 575.0,116.3 575.6,116.3 576.1,116.4 576.7,116.4 577.3,116.4 577.8,116.4 578.4,116.4 579.0,116.4 579.6,116.5 580.2,116.5 580.8,116.5 581.4,116.5 582.0,116.5 582.6,116.5 583.2,116.5 583.8,116.6 584.4,116.6 585.0,116.6 585.6,116.6 586.2,116.6 586.9,116.6 587.5,116.6 588.1,116.7 588.8,116.7 589.4,116.7 590.0,116.7 590.7,116.7 591.3,116.7 592.0,116.7 592.6,116.7 593.3,116.8 593.9,116.8 594.6,116.8 595.3,116.8 595.9,116.8 596.6,116.8 597.3,116.8 598.0,116.8 598.6,116.8 599.3,116.8 600.0,116.9 600.7,116.9 601.4,116.9 602.1,116.9 602.8,116.9 603.5,116.9 604.2,116.9 604.9,116.9 605.6,116.9 606.3,116.9 607.1,116.9 607.8,117.0 608.5,117.0 609.2,117.0 610.0,117.0 610.7,117.0 611.5,117.0 612.2,117.0 612.9,117.0 613.7,117.0 614.4,117.0 615.2,117.0 616.0,117.0 616.7,117.0 617.5,117.1 618.3,117.1 619.0,117.1 619.8,117.1 620.6,117.1 621.4,117.1 622.1,117.1 622.9,117.1 623.7,117.1 624.5,117.1 625.3,117.1 626.1,117.1 626.9,117.1 627.7,117.1 628.5,117.1 629.3,117.2 630.2,117.2 631.0,117.2 631.8,117.2 632.6,117.2 633.5,117.2 634.3,117.2 635.1,117.2 636.0,117.2 636.8,117.2 637.6,117.2 638.5,117.2 639.3,117.2 640.2,117.2 641.1,117.2 641.9,117.2 642.8,117.2 643.7,117.2 644.5,117.3 645.4,117.3 646.3,117.3 647.2,117.3 648.0,117.3 648.9,117.3 649.8,117.3 650.7,117.3 651.6,117.3 652.5,117.3 653.4,117.3 654.3,117.3 655.2,117.3 656.1,117.3 657.0,117.3 658.0,117.3 658.9,117.3 659.8,117.3 660.7,117.3 661.7,117.3 662.6,117.3 663.5,117.3 664.5,117.3 665.4,117.4 666.4,117.4 667.3,117.4 668.3,117.4 669.2,117.4 670.2,117.4" stroke="#3aa56a" stroke-width="0.9" fill="none" />
<polyline points="525.9,39.9 525.9,40.0 525.9,40.5 525.9,41.2 525.9,42.3 525.9,43.5 526.0,45.0 526.0,46.7 526.0,48.6 526.0,50.5 526.1,52.5 526.1,54.6 526.1,56.6 526.2,58.7 526.2,60.7 526.3,62.6 526.3,64.5 526.4,66.3 526.4,68.0 526.5,69.6 526.5,71.1 526.6,72.6 526.7,73.9 526.7,75.2 526.8,76.4 526.9,77.5 527.0,78.6 527.1,79.7 527.2,80.6 527.2,81.6 527.3,82.5 527.4,83.3 527.5,84.2 527.6,84.9 527.8,85.7 527.9,86.4 528.0,87.1 528.1,87.8 528.2,88.5 528.3,89.1 528.5,89.7 528.6,90.3 528.7,90.9 528.9,91.4 529.0,91.9 529.1,92.4 529.3,92.9 529.4,93.4 529.6,93.8 529.7,94.3 529.9,94.7 530.1,95.1 530.2,95.5 530.4,95.9 530.6,96.2 530.8,96.6 530.9,96.9 531.1,97.2 531.3,97.5 531.5,97.8 531.7,98.1 531.9,98.4 532.1,98.7 532.3,98.9 532.5,99.2 532.7,99.4 532.9,99.7 533.1,99.9 533.3,100.1 533.5,100.3 533.8,100.5 534.0,100.7 534.2,100.9 534.4,101.1 534.7,101.3 534.9,101.5 535.2,101.6 535.4,101.8 535.7,102.0 535.9,102.1 536.2,102.3 536.4,102.4 536.7,102.6 536.9,102.7 537.2,102.8 537.5,103.0 537.8,103.1 538.0,103.2 538.3,103.3 538.6,103.4 538.9,103.5 539.2,103.7 539.5,103.8 539.8,103.9 540.1,104.0 540.4,104.1 540.7,104.1 541.0,104.2 541.3,104.3 541.6,104.4 541.9,104.5 542.3,104.6 542.6,104.7 542.9,104.7 543.2,104.8 543.6,104.9 543.9,105.0 544.3,105.0 544.6,105.1 544.9,105.2 545.3,105.2 545.7,105.3 546.0,105.4 546.4,105.4 546.7,105.5 547.1,105.5 547.5,105.6 547.8,105.7 548.2,105.7 548.6,105.8 549.0,105.8 549.4,105.9 549.8,105.9 550.2,106.0 550.6,106.0 551.0,106.1 551.4,106.1 551.8,106.1 552.2,106.2 552.6,106.2 553.0,106.3 553.4,106.3 553.8,106.3 554.3,106.4 554.7,106.4 555.1,106.5 555.6,106.5 556.0,106.5 556.4,106.6 556.9,106.6 557.3,106.6 557.8,106.7 558.2,106.7 558.7,106.7 559.1,106.8 559.6,106.8 560.1,106.8 560.5,106.9 561.0,106.9 561.5,106.9 562.0,106.9 562.5,107.0 562.9,107.0 563.4,107.0 563.9,107.0 564.4,107.1 564.9,107.1 565.4,107.1 565.9,107.1 566.4,107.2 566.9,107.2 567.5,107.2 568.0,107.2 568.5,107.3 569.0,107.3 569.6,107.3 570.1,107.3 570.6,107.3 571.2,107.4 571.7,107.4 572.2,107.4 572.8,107.4 573.3,107.4 573.9,107.5 574.4,107.5 575.0,107.5 575.6,107.5 576.1,107.5 576.7,107.5 577.3,107.6 577.8,107.6 578.4,107.6 579.0,107.6 579.6,107.6 580.2,107.6 580.8,107.7 581.4,107.7 582.0,107.7 582.6,107.7 583.2,107.7 583.8,107.7 584.4,107.7 585.0,107.8 585.6,107.8 586.2,107.8 586.9,107.8 587.5,107.8 588.1,107.8 588.8,107.8 589.4,107.8 590.0,107.9 590.7,107.9 591.3,107.9 592.0,107.9 592.6,107.9 593.3,107.9 593.9,107.9 594.6,107.9 595.3,107.9 595.9,108.0 596.6,108.0 597.3,108.0 598.0,108.0 598.6,108.0 599.3,108.0 600.0,108.0 600.7,108.0 601.4,108.0 602.1,108.0 602.8,108.1 603.5,108.1 604.2,108.1 604.9,108.1 605.6,108.1 606.3,108.1 607.1,108.1 607.8,108.1 608.5,108.1 609.2,108.1 610.0,108.1 610.7,108.1 611.5,108.2 612.2,108.2 612.9,108.2 613.7,108.2 614.4,108.2 615.2,108.2 616.0,108.2 616.7,108.2 617.5,108.2 618.3,108.2 619.0,108.2 619.8,108.2 620.6,108.2 621.4,108.3 622.1,108.3 622.9,108.3 623.7,108.3 624.5,108.3 625.3,108.3 626.1,108.3 626.9,108.3 627.7,108.3 628.5,108.3 629.3,108.3 630.2,108.3 631.0,108.3 631.8,108.3 632.6,108.3 633.5,108.3 634.3,108.3 635.1,108.4 636.0,108.4 636.8,108.4 637.6,108.4 638.5,108.4 639.3,108.4 640.2,108.4 641.1,108.4 641.9,108.4 642.8,108.4 643.7,108.4 644.5,108.4 645.4,108.4 646.3,108.4 647.2,108.4 648.0,108.4 648.9,108.4 649.8,108.4 650.7,108.4 651.6,108.5 652.5,108.5 653.4,108.5 654.3,108.5 655.2,108.5 656.1,108.5 657.0,108.5 658.0,108.5 658.9,108.5 659.8,108.5 660.7,108.5 661.7,108.5 662.6,108.5 663.5,108.5 664.5,108.5 665.4,108.5 666.4,108.5 667.3,108.5 668.3,108.5 669.2,108.5 670.2,108.5" stroke="#a56ae0" stroke-width="0.9" fill="none" />
<polyline points="525.9,28.8 525.9,29.0 525.9,29.5 525.9,30.3 525.9,31.4 525.9,32.7 526.0,34.3 526.0,36.1 526.0,38.0 526.0,40.1 526.1,42.2 526.1,44.4 526.1,46.5 526.2,48.7 526.2,50.8 526.3,52.8 526.3,54.7 526.4,56.6 526.4,58.4 526.5,60.0 526.5,61.6 526.6,63.1 526.7,64.5 526.7,65.8 526.8,67.0 526.9,68.2 527.0,69.3 527.1,70.3 527.2,71.3 527.2,72.2 527.3,73.1 527.4,74.0 527.5,74.8 527.6,75.6 527.8,76.4 527.9,77.1 528.0,77.8 528.1,78.5 528.2,79.1 528.3,79.8 528.5,80.4 528.6,81.0 528.7,81.5 528.9,82.1 529.0,82.6 529.1,83.1 529.3,83.6 529.4,84.1 529.6,84.5 529.7,84.9 529.9,85.4 530.1,85.8 530.2,86.2 530.4,86.5 530.6,86.9 530.8,87.2 530.9,87.6 531.1,87.9 531.3,88.2 531.5,88.5 531.7,88.8 531.9,89.1 532.1,89.4 532.3,89.6 532.5,89.9 532.7,90.1 532.9,90.3 533.1,90.6 533.3,90.8 533.5,91.0 533.8,91.2 534.0,91.4 534.2,91.6 534.4,91.8 534.7,92.0 534.9,92.1 535.2,92.3 535.4,92.5 535.7,92.6 535.9,92.8 536.2,92.9 536.4,93.1 536.7,93.2 536.9,93.4 537.2,93.5 537.5,93.6 537.8,93.8 538.0,93.9 538.3,94.0 538.6,94.1 538.9,94.2 539.2,94.3 539.5,94.4 539.8,94.5 540.1,94.6 540.4,94.7 540.7,94.8 541.0,94.9 541.3,95.0 541.6,95.1 541.9,95.2 542.3,95.3 542.6,95.3 542.9,95.4 543.2,95.5 543.6,95.6 543.9,95.6 544.3,95.7 544.6,95.8 544.9,95.8 545.3,95.9 545.7,96.0 546.0,96.0 546.4,96.1 546.7,96.2 547.1,96.2 547.5,96.3 547.8,96.3 548.2,96.4 548.6,96.4 549.0,96.5 549.4,96.5 549.8,96.6 550.2,96.6 550.6,96.7 551.0,96.7 551.4,96.8 551.8,96.8 552.2,96.9 552.6,96.9 553.0,96.9 553.4,97.0 553.8,97.0 554.3,97.1 554.7,97.1 555.1,97.1 555.6,97.2 556.0,97.2 556.4,97.2 556.9,97.3 557.3,97.3 557.8,97.3 558.2,97.4 558.7,97.4 559.1,97.4 559.6,97.5 560.1,97.5 560.5,97.5 561.0,97.6 561.5,97.6 562.0,97.6 562.5,97.6 562.9,97.7 563.4,97.7 563.9,97.7 564.4,97.7 564.9,97.8 565.4,97.8 565.9,97.8 566.4,97.8 566.9,97.9 567.5,97.9 568.0,97.9 568.5,97.9 569.0,97.9 569.6,98.0 570.1,98.0 570.6,98.0 571.2,98.0 571.7,98.1 572.2,98.1 572.8,98.1 573.3,98.1 573.9,98.1 574.4,98.1 575.0,98.2 575.6,98.2 576.1,98.2 576.7,98.2 577.3,98.2 577.8,98.2 578.4,98.3 579.0,98.3 579.6,98.3 580.2,98.3 580.8,98.3 581.4,98.3 582.0,98.4 582.6,98.4 583.2,98.4 583.8,98.4 584.4,98.4 585.0,98.4 585.6,98.4 586.2,98.5 586.9,98.5 587.5,98.5 588.1,98.5 588.8,98.5 589.4,98.5 590.0,98.5 590.7,98.5 591.3,98.5 592.0,98.6 592.6,98.6 593.3,98.6 593.9,98.6 594.6,98.6 595.3,98.6 595.9,98.6 596.6,98.6 597.3,98.6 598.0,98.7 598.6,98.7 599.3,98.7 600.0,98.7 600.7,98.7 601.4,98.7 602.1,98.7 602.8,98.7 603.5,98.7 604.2,98.7 604.9,98.8 605.6,98.8 606.3,98.8 607.1,98.8 607.8,98.8 608.5,98.8 609.2,98.8 610.0,98.8 610.7,98.8 611.5,98.8 612.2,98.8 612.9,98.8 613.7,98.9 614.4,98.9 615.2,98.9 616.0,98.9 616.7,98.9 617.5,98.9 618.3,98.9 619.0,98.9 619.8,98.9 620.6,98.9 621.4,98.9 622.1,98.9 622.9,98.9 623.7,98.9 624.5,98.9 625.3,99.0 626.1,99.0 626.9,99.0 627.7,99.0 628.5,99.0 629.3,99.0 630.2,99.0 631.0,99.0 631.8,99.0 632.6,99.0 633.5,99.0 634.3,99.0 635.1,99.0 636.0,99.0 636.8,99.0 637.6,99.0 638.5,99.0 639.3,99.1 640.2,99.1 641.1,99.1 641.9,99.1 642.8,99.1 643.7,99.1 644.5,99.1 645.4,99.1 646.3,99.1 647.2,99.1 648.0,99.1 648.9,99.1 649.8,99.1 650.7,99.1 651.6,99.1 652.5,99.1 653.4,99.1 654.3,99.1 655.2,99.1 656.1,99.1 657.0,99.1 658.0,99.2 658.9,99.2 659.8,99.2 660.7,99.2 661.7,99.2 662.6,99.2 663.5,99.2 664.5,99.2 665.4,99.2 666.4,99.2 667.3,99.2 668.3,99.2 669.2,99.2 670.2,99.2" stroke="#d9a21a" stroke-width="0.9" fill="none" />
<rect x="513.50" y="14.80" width="167.50" height="135.20" fill="none" stroke="#444" stroke-width="0.9"/>
<line x1="525.90" y1="150.00" x2="525.90" y2="152.60" stroke="#444" stroke-width="0.9" />
<line x1="525.90" y1="14.80" x2="525.90" y2="12.20" stroke="#444" stroke-width="0.9" />
<line x1="549.95" y1="150.00" x2="549.95" y2="152.60" stroke="#444" stroke-width="0.9" />
<line x1="549.95" y1="14.80" x2="549.95" y2="12.20" stroke="#444" stroke-width="0.9" />
<line x1="574.00" y1="150.00" x2="574.00" y2="152.60" stroke="#444" stroke-width="0.9" />
<line x1="574.00" y1="14.80" x2="574.00" y2="12.20" stroke="#444" stroke-width="0.9" />
<line x1="598.05" y1="150.00" x2="598.05" y2="152.60" stroke="#444" stroke-width="0.9" />
<line x1="598.05" y1="14.80" x2="598.05" y2="12.20" stroke="#444" stroke-width="0.9" />
<line x1="622.10" y1="150.00" x2="622.10" y2="152.60" stroke="#444" stroke-width="0.9" />
<line x1="622.10" y1="14.80" x2="622.10" y2="12.20" stroke="#444" stroke-width="0.9" />
<line x1="646.15" y1="150.00" x2="646.15" y2="152.60" stroke="#444" stroke-width="0.9" />
<line x1="646.15" y1="14.80" x2="646.15" y2="12.20" stroke="#444" stroke-width="0.9" />
<line x1="670.20" y1="150.00" x2="670.20" y2="152.60" stroke="#444" stroke-width="0.9" />
<line x1="670.20" y1="14.80" x2="670.20" y2="12.20" stroke="#444" stroke-width="0.9" />
<line x1="537.92" y1="150.00" x2="537.92" y2="151.50" stroke="#444" stroke-width="0.8" />
<line x1="537.92" y1="14.80" x2="537.92" y2="13.30" stroke="#444" stroke-width="0.8" />
<line x1="561.98" y1="150.00" x2="561.98" y2="151.50" stroke="#444" stroke-width="0.8" />
<line x1="561.98" y1="14.80" x2="561.98" y2="13.30" stroke="#444" stroke-width="0.8" />
<line x1="586.02" y1="150.00" x2="586.02" y2="151.50" stroke="#444" stroke-width="0.8" />
<line x1="586.02" y1="14.80" x2="586.02" y2="13.30" stroke="#444" stroke-width="0.8" />
<line x1="610.08" y1="150.00" x2="610.08" y2="151.50" stroke="#444" stroke-width="0.8" />
<line x1="610.08" y1="14.80" x2="610.08" y2="13.30" stroke="#444" stroke-width="0.8" />
<line x1="634.12" y1="150.00" x2="634.12" y2="151.50" stroke="#444" stroke-width="0.8" />
<line x1="634.12" y1="14.80" x2="634.12" y2="13.30" stroke="#444" stroke-width="0.8" />
<line x1="658.18" y1="150.00" x2="658.18" y2="151.50" stroke="#444" stroke-width="0.8" />
<line x1="658.18" y1="14.80" x2="658.18" y2="13.30" stroke="#444" stroke-width="0.8" />
<line x1="513.50" y1="137.50" x2="510.90" y2="137.50" stroke="#444" stroke-width="0.9" />
<line x1="681.00" y1="137.50" x2="683.60" y2="137.50" stroke="#444" stroke-width="0.9" />
<line x1="513.50" y1="112.95" x2="510.90" y2="112.95" stroke="#444" stroke-width="0.9" />
<line x1="681.00" y1="112.95" x2="683.60" y2="112.95" stroke="#444" stroke-width="0.9" />
<line x1="513.50" y1="88.40" x2="510.90" y2="88.40" stroke="#444" stroke-width="0.9" />
<line x1="681.00" y1="88.40" x2="683.60" y2="88.40" stroke="#444" stroke-width="0.9" />
<line x1="513.50" y1="63.85" x2="510.90" y2="63.85" stroke="#444" stroke-width="0.9" />
<line x1="681.00" y1="63.85" x2="683.60" y2="63.85" stroke="#444" stroke-width="0.9" />
<line x1="513.50" y1="39.30" x2="510.90" y2="39.30" stroke="#444" stroke-width="0.9" />
<line x1="681.00" y1="39.30" x2="683.60" y2="39.30" stroke="#444" stroke-width="0.9" />
<line x1="513.50" y1="14.75" x2="510.90" y2="14.75" stroke="#444" stroke-width="0.9" />
<line x1="681.00" y1="14.75" x2="683.60" y2="14.75" stroke="#444" stroke-width="0.9" />
<line x1="513.50" y1="149.77" x2="512.00" y2="149.77" stroke="#444" stroke-width="0.8" />
<line x1="681.00" y1="149.77" x2="682.50" y2="149.77" stroke="#444" stroke-width="0.8" />
<line x1="513.50" y1="125.22" x2="512.00" y2="125.22" stroke="#444" stroke-width="0.8" />
<line x1="681.00" y1="125.22" x2="682.50" y2="125.22" stroke="#444" stroke-width="0.8" />
<line x1="513.50" y1="100.67" x2="512.00" y2="100.67" stroke="#444" stroke-width="0.8" />
<line x1="681.00" y1="100.67" x2="682.50" y2="100.67" stroke="#444" stroke-width="0.8" />
<line x1="513.50" y1="76.12" x2="512.00" y2="76.12" stroke="#444" stroke-width="0.8" />
<line x1="681.00" y1="76.12" x2="682.50" y2="76.12" stroke="#444" stroke-width="0.8" />
<line x1="513.50" y1="51.57" x2="512.00" y2="51.57" stroke="#444" stroke-width="0.8" />
<line x1="681.00" y1="51.57" x2="682.50" y2="51.57" stroke="#444" stroke-width="0.8" />
<line x1="513.50" y1="27.02" x2="512.00" y2="27.02" stroke="#444" stroke-width="0.8" />
<line x1="681.00" y1="27.02" x2="682.50" y2="27.02" stroke="#444" stroke-width="0.8" />
<text x="525.90" y="163.28" font-size="10.5" text-anchor="middle" fill="#111" >0</text>
<text x="549.95" y="163.28" font-size="10.5" text-anchor="middle" fill="#111" >10</text>
<text x="574.00" y="163.28" font-size="10.5" text-anchor="middle" fill="#111" >20</text>
<text x="598.05" y="163.28" font-size="10.5" text-anchor="middle" fill="#111" >30</text>
<text x="622.10" y="163.28" font-size="10.5" text-anchor="middle" fill="#111" >40</text>
<text x="646.15" y="163.28" font-size="10.5" text-anchor="middle" fill="#111" >50</text>
<text x="670.20" y="163.28" font-size="10.5" text-anchor="middle" fill="#111" >60</text>
<text x="509.70" y="141.28" font-size="10.5" text-anchor="end" fill="#111" >0.1</text>
<text x="509.70" y="116.73" font-size="10.5" text-anchor="end" fill="#111" >0.2</text>
<text x="509.70" y="92.18" font-size="10.5" text-anchor="end" fill="#111" >0.3</text>
<text x="509.70" y="67.63" font-size="10.5" text-anchor="end" fill="#111" >0.4</text>
<text x="509.70" y="43.08" font-size="10.5" text-anchor="end" fill="#111" >0.5</text>
<text x="509.70" y="18.53" font-size="10.5" text-anchor="end" fill="#111" >0.6</text>
<text x="597.50" y="176.64" font-size="11.5" text-anchor="middle" fill="#111" >Time (s)</text>
<text transform="translate(492,82) rotate(-90)" font-size="11.5" text-anchor="middle" fill="#111">Current (μA)</text>
<text x="542.80" y="26.77" font-size="6.3" text-anchor="start" fill="#222" >[Part A]</text>
<text x="542.80" y="41.77" font-size="6.3" text-anchor="start" fill="#222" >[Subcutaneous glucose = 12 mM]</text>
<line x1="652.70" y1="22.60" x2="664.60" y2="22.60" stroke="#8c8c8c" stroke-width="0.9" />
<text x="667.50" y="24.69" font-size="5.8" text-anchor="start" fill="#222" >0</text>
<line x1="652.70" y1="29.75" x2="664.60" y2="29.75" stroke="#e8474a" stroke-width="0.9" />
<text x="667.50" y="31.84" font-size="5.8" text-anchor="start" fill="#222" >1</text>
<line x1="652.70" y1="36.90" x2="664.60" y2="36.90" stroke="#3f7fe0" stroke-width="0.9" />
<text x="667.50" y="38.99" font-size="5.8" text-anchor="start" fill="#222" >2</text>
<line x1="652.70" y1="44.05" x2="664.60" y2="44.05" stroke="#3aa56a" stroke-width="0.9" />
<text x="667.50" y="46.14" font-size="5.8" text-anchor="start" fill="#222" >3</text>
<line x1="652.70" y1="51.20" x2="664.60" y2="51.20" stroke="#a56ae0" stroke-width="0.9" />
<text x="667.50" y="53.29" font-size="5.8" text-anchor="start" fill="#222" >4</text>
<line x1="652.70" y1="58.35" x2="664.60" y2="58.35" stroke="#d9a21a" stroke-width="0.9" />
<text x="667.50" y="60.44" font-size="5.8" text-anchor="start" fill="#222" >5</text>
<line x1="676.20" y1="139.70" x2="676.20" y2="99.00" stroke="#000" stroke-width="0.9" />
<path d="M674.4,100 L676.2,95.5 L678,100 Z" fill="#000"/>
<text x="478.30" y="188.58" font-size="20.5" text-anchor="start" fill="#000" font-weight="bold" >c</text>
<rect x="513.50" y="194.20" width="167.50" height="135.80" fill="none" stroke="#444" stroke-width="0.9"/>
<line x1="530.60" y1="330.00" x2="530.60" y2="332.60" stroke="#444" stroke-width="0.9" />
<line x1="530.60" y1="194.20" x2="530.60" y2="191.60" stroke="#444" stroke-width="0.9" />
<line x1="564.25" y1="330.00" x2="564.25" y2="332.60" stroke="#444" stroke-width="0.9" />
<line x1="564.25" y1="194.20" x2="564.25" y2="191.60" stroke="#444" stroke-width="0.9" />
<line x1="597.90" y1="330.00" x2="597.90" y2="332.60" stroke="#444" stroke-width="0.9" />
<line x1="597.90" y1="194.20" x2="597.90" y2="191.60" stroke="#444" stroke-width="0.9" />
<line x1="631.55" y1="330.00" x2="631.55" y2="332.60" stroke="#444" stroke-width="0.9" />
<line x1="631.55" y1="194.20" x2="631.55" y2="191.60" stroke="#444" stroke-width="0.9" />
<line x1="665.20" y1="330.00" x2="665.20" y2="332.60" stroke="#444" stroke-width="0.9" />
<line x1="665.20" y1="194.20" x2="665.20" y2="191.60" stroke="#444" stroke-width="0.9" />
<line x1="547.43" y1="330.00" x2="547.43" y2="331.50" stroke="#444" stroke-width="0.8" />
<line x1="547.43" y1="194.20" x2="547.43" y2="192.70" stroke="#444" stroke-width="0.8" />
<line x1="581.08" y1="330.00" x2="581.08" y2="331.50" stroke="#444" stroke-width="0.8" />
<line x1="581.08" y1="194.20" x2="581.08" y2="192.70" stroke="#444" stroke-width="0.8" />
<line x1="614.73" y1="330.00" x2="614.73" y2="331.50" stroke="#444" stroke-width="0.8" />
<line x1="614.73" y1="194.20" x2="614.73" y2="192.70" stroke="#444" stroke-width="0.8" />
<line x1="648.38" y1="330.00" x2="648.38" y2="331.50" stroke="#444" stroke-width="0.8" />
<line x1="648.38" y1="194.20" x2="648.38" y2="192.70" stroke="#444" stroke-width="0.8" />
<line x1="513.50" y1="194.20" x2="510.90" y2="194.20" stroke="#444" stroke-width="0.9" />
<line x1="681.00" y1="194.20" x2="683.60" y2="194.20" stroke="#444" stroke-width="0.9" />
<line x1="513.50" y1="262.10" x2="510.90" y2="262.10" stroke="#444" stroke-width="0.9" />
<line x1="681.00" y1="262.10" x2="683.60" y2="262.10" stroke="#444" stroke-width="0.9" />
<line x1="513.50" y1="330.00" x2="510.90" y2="330.00" stroke="#444" stroke-width="0.9" />
<line x1="681.00" y1="330.00" x2="683.60" y2="330.00" stroke="#444" stroke-width="0.9" />
<line x1="513.50" y1="296.05" x2="512.00" y2="296.05" stroke="#444" stroke-width="0.8" />
<line x1="681.00" y1="296.05" x2="682.50" y2="296.05" stroke="#444" stroke-width="0.8" />
<line x1="513.50" y1="228.15" x2="512.00" y2="228.15" stroke="#444" stroke-width="0.8" />
<line x1="681.00" y1="228.15" x2="682.50" y2="228.15" stroke="#444" stroke-width="0.8" />
<text x="530.60" y="343.28" font-size="10.5" text-anchor="middle" fill="#111" >1</text>
<text x="564.25" y="343.28" font-size="10.5" text-anchor="middle" fill="#111" >2</text>
<text x="597.90" y="343.28" font-size="10.5" text-anchor="middle" fill="#111" >3</text>
<text x="631.55" y="343.28" font-size="10.5" text-anchor="middle" fill="#111" >4</text>
<text x="665.20" y="343.28" font-size="10.5" text-anchor="middle" fill="#111" >5</text>
<text x="509.70" y="197.98" font-size="10.5" text-anchor="end" fill="#111" >7.0</text>
<text x="509.70" y="265.88" font-size="10.5" text-anchor="end" fill="#111" >6.9</text>
<text x="509.70" y="333.78" font-size="10.5" text-anchor="end" fill="#111" >6.8</text>
<polyline points="530.6,219.3 564.2,243.8 597.9,247.8 631.6,264.8 665.2,262.1" stroke="#222" stroke-width="0.8" fill="none" />
<circle cx="530.60" cy="219.32" r="1.6" fill="#222"/>
<circle cx="564.25" cy="243.77" r="1.6" fill="#222"/>
<circle cx="597.90" cy="247.84" r="1.6" fill="#222"/>
<circle cx="631.55" cy="264.82" r="1.6" fill="#222"/>
<circle cx="665.20" cy="262.10" r="1.6" fill="#222"/>
<text x="597.50" y="357.64" font-size="11.5" text-anchor="middle" fill="#111" >Extraction times</text>
<text transform="translate(491,262.6) rotate(-90)" font-size="11.5" text-anchor="middle" fill="#111">Skin surface pH</text>
<text x="675.50" y="213.57" font-size="6.3" text-anchor="end" fill="#222" >[Part A]</text>
<text x="518.50" y="322.77" font-size="6.3" text-anchor="start" fill="#222" >[Subcutaneous glucose = 12 mM]</text>
<text x="478.00" y="380.38" font-size="20.5" text-anchor="start" fill="#000" font-weight="bold" >f</text>
<rect x="513.50" y="375.20" width="167.50" height="135.80" fill="none" stroke="#444" stroke-width="0.9"/>
<line x1="530.60" y1="511.00" x2="530.60" y2="513.60" stroke="#444" stroke-width="0.9" />
<line x1="530.60" y1="375.20" x2="530.60" y2="372.60" stroke="#444" stroke-width="0.9" />
<line x1="564.27" y1="511.00" x2="564.27" y2="513.60" stroke="#444" stroke-width="0.9" />
<line x1="564.27" y1="375.20" x2="564.27" y2="372.60" stroke="#444" stroke-width="0.9" />
<line x1="597.95" y1="511.00" x2="597.95" y2="513.60" stroke="#444" stroke-width="0.9" />
<line x1="597.95" y1="375.20" x2="597.95" y2="372.60" stroke="#444" stroke-width="0.9" />
<line x1="631.62" y1="511.00" x2="631.62" y2="513.60" stroke="#444" stroke-width="0.9" />
<line x1="631.62" y1="375.20" x2="631.62" y2="372.60" stroke="#444" stroke-width="0.9" />
<line x1="665.30" y1="511.00" x2="665.30" y2="513.60" stroke="#444" stroke-width="0.9" />
<line x1="665.30" y1="375.20" x2="665.30" y2="372.60" stroke="#444" stroke-width="0.9" />
<line x1="547.44" y1="511.00" x2="547.44" y2="512.50" stroke="#444" stroke-width="0.8" />
<line x1="547.44" y1="375.20" x2="547.44" y2="373.70" stroke="#444" stroke-width="0.8" />
<line x1="581.11" y1="511.00" x2="581.11" y2="512.50" stroke="#444" stroke-width="0.8" />
<line x1="581.11" y1="375.20" x2="581.11" y2="373.70" stroke="#444" stroke-width="0.8" />
<line x1="614.79" y1="511.00" x2="614.79" y2="512.50" stroke="#444" stroke-width="0.8" />
<line x1="614.79" y1="375.20" x2="614.79" y2="373.70" stroke="#444" stroke-width="0.8" />
<line x1="648.46" y1="511.00" x2="648.46" y2="512.50" stroke="#444" stroke-width="0.8" />
<line x1="648.46" y1="375.20" x2="648.46" y2="373.70" stroke="#444" stroke-width="0.8" />
<line x1="513.50" y1="488.90" x2="510.90" y2="488.90" stroke="#444" stroke-width="0.9" />
<line x1="681.00" y1="488.90" x2="683.60" y2="488.90" stroke="#444" stroke-width="0.9" />
<line x1="513.50" y1="447.50" x2="510.90" y2="447.50" stroke="#444" stroke-width="0.9" />
<line x1="681.00" y1="447.50" x2="683.60" y2="447.50" stroke="#444" stroke-width="0.9" />
<line x1="513.50" y1="406.10" x2="510.90" y2="406.10" stroke="#444" stroke-width="0.9" />
<line x1="681.00" y1="406.10" x2="683.60" y2="406.10" stroke="#444" stroke-width="0.9" />
<line x1="513.50" y1="509.60" x2="512.00" y2="509.60" stroke="#444" stroke-width="0.8" />
<line x1="681.00" y1="509.60" x2="682.50" y2="509.60" stroke="#444" stroke-width="0.8" />
<line x1="513.50" y1="488.90" x2="512.00" y2="488.90" stroke="#444" stroke-width="0.8" />
<line x1="681.00" y1="488.90" x2="682.50" y2="488.90" stroke="#444" stroke-width="0.8" />
<line x1="513.50" y1="468.20" x2="512.00" y2="468.20" stroke="#444" stroke-width="0.8" />
<line x1="681.00" y1="468.20" x2="682.50" y2="468.20" stroke="#444" stroke-width="0.8" />
<line x1="513.50" y1="447.50" x2="512.00" y2="447.50" stroke="#444" stroke-width="0.8" />
<line x1="681.00" y1="447.50" x2="682.50" y2="447.50" stroke="#444" stroke-width="0.8" />
<line x1="513.50" y1="426.80" x2="512.00" y2="426.80" stroke="#444" stroke-width="0.8" />
<line x1="681.00" y1="426.80" x2="682.50" y2="426.80" stroke="#444" stroke-width="0.8" />
<line x1="513.50" y1="406.10" x2="512.00" y2="406.10" stroke="#444" stroke-width="0.8" />
<line x1="681.00" y1="406.10" x2="682.50" y2="406.10" stroke="#444" stroke-width="0.8" />
<line x1="513.50" y1="385.40" x2="512.00" y2="385.40" stroke="#444" stroke-width="0.8" />
<line x1="681.00" y1="385.40" x2="682.50" y2="385.40" stroke="#444" stroke-width="0.8" />
<text x="530.60" y="524.28" font-size="10.5" text-anchor="middle" fill="#111" >1</text>
<text x="564.27" y="524.28" font-size="10.5" text-anchor="middle" fill="#111" >2</text>
<text x="597.95" y="524.28" font-size="10.5" text-anchor="middle" fill="#111" >3</text>
<text x="631.62" y="524.28" font-size="10.5" text-anchor="middle" fill="#111" >4</text>
<text x="665.30" y="524.28" font-size="10.5" text-anchor="middle" fill="#111" >5</text>
<text x="509.70" y="409.88" font-size="10.5" text-anchor="end" fill="#111" >6.6</text>
<text x="509.70" y="451.28" font-size="10.5" text-anchor="end" fill="#111" >6.5</text>
<text x="509.70" y="492.68" font-size="10.5" text-anchor="end" fill="#111" >6.4</text>
<polyline points="530.6,389.5 564.3,411.1 598.0,433.4 631.6,469.0 665.3,498.0" stroke="#222" stroke-width="0.8" fill="none" />
<circle cx="530.60" cy="389.54" r="1.6" fill="#222"/>
<circle cx="564.27" cy="411.07" r="1.6" fill="#222"/>
<circle cx="597.95" cy="433.42" r="1.6" fill="#222"/>
<circle cx="631.62" cy="469.03" r="1.6" fill="#222"/>
<circle cx="665.30" cy="498.01" r="1.6" fill="#222"/>
<text x="597.50" y="536.14" font-size="11.5" text-anchor="middle" fill="#111" >Extraction times</text>
<text transform="translate(491,443) rotate(-90)" font-size="11.5" text-anchor="middle" fill="#111">Skin surface pH</text>
<text x="675.50" y="385.77" font-size="6.3" text-anchor="end" fill="#222" >[Part B]</text>
<text x="519.50" y="503.27" font-size="6.3" text-anchor="start" fill="#222" >[Subcutaneous glucose = 12 mM]</text>
<text x="-1.00" y="379.68" font-size="20.5" text-anchor="start" fill="#000" font-weight="bold" >d</text>
<rect x="48.70" y="374.50" width="169.10" height="135.70" fill="none" stroke="#444" stroke-width="0.9"/>
<line x1="65.80" y1="510.20" x2="65.80" y2="512.80" stroke="#444" stroke-width="0.9" />
<line x1="65.80" y1="374.50" x2="65.80" y2="371.90" stroke="#444" stroke-width="0.9" />
<line x1="99.38" y1="510.20" x2="99.38" y2="512.80" stroke="#444" stroke-width="0.9" />
<line x1="99.38" y1="374.50" x2="99.38" y2="371.90" stroke="#444" stroke-width="0.9" />
<line x1="132.95" y1="510.20" x2="132.95" y2="512.80" stroke="#444" stroke-width="0.9" />
<line x1="132.95" y1="374.50" x2="132.95" y2="371.90" stroke="#444" stroke-width="0.9" />
<line x1="166.53" y1="510.20" x2="166.53" y2="512.80" stroke="#444" stroke-width="0.9" />
<line x1="166.53" y1="374.50" x2="166.53" y2="371.90" stroke="#444" stroke-width="0.9" />
<line x1="200.10" y1="510.20" x2="200.10" y2="512.80" stroke="#444" stroke-width="0.9" />
<line x1="200.10" y1="374.50" x2="200.10" y2="371.90" stroke="#444" stroke-width="0.9" />
<line x1="82.59" y1="510.20" x2="82.59" y2="511.70" stroke="#444" stroke-width="0.8" />
<line x1="82.59" y1="374.50" x2="82.59" y2="373.00" stroke="#444" stroke-width="0.8" />
<line x1="116.16" y1="510.20" x2="116.16" y2="511.70" stroke="#444" stroke-width="0.8" />
<line x1="116.16" y1="374.50" x2="116.16" y2="373.00" stroke="#444" stroke-width="0.8" />
<line x1="149.74" y1="510.20" x2="149.74" y2="511.70" stroke="#444" stroke-width="0.8" />
<line x1="149.74" y1="374.50" x2="149.74" y2="373.00" stroke="#444" stroke-width="0.8" />
<line x1="183.31" y1="510.20" x2="183.31" y2="511.70" stroke="#444" stroke-width="0.8" />
<line x1="183.31" y1="374.50" x2="183.31" y2="373.00" stroke="#444" stroke-width="0.8" />
<line x1="48.70" y1="510.20" x2="46.10" y2="510.20" stroke="#444" stroke-width="0.9" />
<line x1="217.80" y1="510.20" x2="220.40" y2="510.20" stroke="#444" stroke-width="0.9" />
<line x1="48.70" y1="478.98" x2="46.10" y2="478.98" stroke="#444" stroke-width="0.9" />
<line x1="217.80" y1="478.98" x2="220.40" y2="478.98" stroke="#444" stroke-width="0.9" />
<line x1="48.70" y1="447.75" x2="46.10" y2="447.75" stroke="#444" stroke-width="0.9" />
<line x1="217.80" y1="447.75" x2="220.40" y2="447.75" stroke="#444" stroke-width="0.9" />
<line x1="48.70" y1="416.52" x2="46.10" y2="416.52" stroke="#444" stroke-width="0.9" />
<line x1="217.80" y1="416.52" x2="220.40" y2="416.52" stroke="#444" stroke-width="0.9" />
<line x1="48.70" y1="385.30" x2="46.10" y2="385.30" stroke="#444" stroke-width="0.9" />
<line x1="217.80" y1="385.30" x2="220.40" y2="385.30" stroke="#444" stroke-width="0.9" />
<line x1="48.70" y1="494.59" x2="47.20" y2="494.59" stroke="#444" stroke-width="0.8" />
<line x1="217.80" y1="494.59" x2="219.30" y2="494.59" stroke="#444" stroke-width="0.8" />
<line x1="48.70" y1="463.36" x2="47.20" y2="463.36" stroke="#444" stroke-width="0.8" />
<line x1="217.80" y1="463.36" x2="219.30" y2="463.36" stroke="#444" stroke-width="0.8" />
<line x1="48.70" y1="432.14" x2="47.20" y2="432.14" stroke="#444" stroke-width="0.8" />
<line x1="217.80" y1="432.14" x2="219.30" y2="432.14" stroke="#444" stroke-width="0.8" />
<line x1="48.70" y1="400.91" x2="47.20" y2="400.91" stroke="#444" stroke-width="0.8" />
<line x1="217.80" y1="400.91" x2="219.30" y2="400.91" stroke="#444" stroke-width="0.8" />
<text x="65.80" y="523.48" font-size="10.5" text-anchor="middle" fill="#111" >1</text>
<text x="99.38" y="523.48" font-size="10.5" text-anchor="middle" fill="#111" >2</text>
<text x="132.95" y="523.48" font-size="10.5" text-anchor="middle" fill="#111" >3</text>
<text x="166.53" y="523.48" font-size="10.5" text-anchor="middle" fill="#111" >4</text>
<text x="200.10" y="523.48" font-size="10.5" text-anchor="middle" fill="#111" >5</text>
<text x="44.90" y="513.98" font-size="10.5" text-anchor="end" fill="#111" >0</text>
<text x="44.90" y="482.75" font-size="10.5" text-anchor="end" fill="#111" >300</text>
<text x="44.90" y="451.53" font-size="10.5" text-anchor="end" fill="#111" >600</text>
<text x="44.90" y="420.30" font-size="10.5" text-anchor="end" fill="#111" >900</text>
<text x="44.90" y="389.08" font-size="10.5" text-anchor="end" fill="#111" >1200</text>
<line x1="64.79" y1="469.75" x2="201.11" y2="409.62" stroke="#24438c" stroke-width="0.9" />
<line x1="64.79" y1="472.50" x2="201.11" y2="416.87" stroke="#d97ef0" stroke-width="0.9" />
<line x1="65.80" y1="473.25" x2="65.80" y2="470.13" stroke="#d97ef0" stroke-width="0.8" />
<line x1="64.30" y1="473.25" x2="67.30" y2="473.25" stroke="#d97ef0" stroke-width="0.8" />
<line x1="64.30" y1="470.13" x2="67.30" y2="470.13" stroke="#d97ef0" stroke-width="0.8" />
<circle cx="65.80" cy="471.69" r="1.9" fill="url(#pp)"/>
<line x1="99.38" y1="462.84" x2="99.38" y2="454.52" stroke="#d97ef0" stroke-width="0.8" />
<line x1="97.88" y1="462.84" x2="100.88" y2="462.84" stroke="#d97ef0" stroke-width="0.8" />
<line x1="97.88" y1="454.52" x2="100.88" y2="454.52" stroke="#d97ef0" stroke-width="0.8" />
<circle cx="99.38" cy="458.68" r="1.9" fill="url(#pp)"/>
<line x1="132.95" y1="449.83" x2="132.95" y2="443.59" stroke="#d97ef0" stroke-width="0.8" />
<line x1="131.45" y1="449.83" x2="134.45" y2="449.83" stroke="#d97ef0" stroke-width="0.8" />
<line x1="131.45" y1="443.59" x2="134.45" y2="443.59" stroke="#d97ef0" stroke-width="0.8" />
<circle cx="132.95" cy="446.71" r="1.9" fill="url(#pp)"/>
<line x1="166.53" y1="436.30" x2="166.53" y2="425.89" stroke="#d97ef0" stroke-width="0.8" />
<line x1="165.03" y1="436.30" x2="168.03" y2="436.30" stroke="#d97ef0" stroke-width="0.8" />
<line x1="165.03" y1="425.89" x2="168.03" y2="425.89" stroke="#d97ef0" stroke-width="0.8" />
<circle cx="166.53" cy="431.10" r="1.9" fill="url(#pp)"/>
<line x1="200.10" y1="423.81" x2="200.10" y2="411.32" stroke="#d97ef0" stroke-width="0.8" />
<line x1="198.60" y1="423.81" x2="201.60" y2="423.81" stroke="#d97ef0" stroke-width="0.8" />
<line x1="198.60" y1="411.32" x2="201.60" y2="411.32" stroke="#d97ef0" stroke-width="0.8" />
<circle cx="200.10" cy="417.57" r="1.9" fill="url(#pp)"/>
<line x1="65.80" y1="470.96" x2="65.80" y2="467.21" stroke="#24438c" stroke-width="1.0" />
<line x1="64.30" y1="470.96" x2="67.30" y2="470.96" stroke="#24438c" stroke-width="0.8" />
<line x1="64.30" y1="467.21" x2="67.30" y2="467.21" stroke="#24438c" stroke-width="0.8" />
<circle cx="65.80" cy="469.09" r="1.9" fill="url(#pb)"/>
<line x1="99.38" y1="459.20" x2="99.38" y2="449.83" stroke="#24438c" stroke-width="1.0" />
<line x1="97.88" y1="459.20" x2="100.88" y2="459.20" stroke="#24438c" stroke-width="0.8" />
<line x1="97.88" y1="449.83" x2="100.88" y2="449.83" stroke="#24438c" stroke-width="0.8" />
<circle cx="99.38" cy="454.52" r="1.9" fill="url(#pb)"/>
<line x1="132.95" y1="445.15" x2="132.95" y2="438.90" stroke="#24438c" stroke-width="1.0" />
<line x1="131.45" y1="445.15" x2="134.45" y2="445.15" stroke="#24438c" stroke-width="0.8" />
<line x1="131.45" y1="438.90" x2="134.45" y2="438.90" stroke="#24438c" stroke-width="0.8" />
<circle cx="132.95" cy="442.03" r="1.9" fill="url(#pb)"/>
<line x1="166.53" y1="431.62" x2="166.53" y2="416.00" stroke="#24438c" stroke-width="1.0" />
<line x1="165.03" y1="431.62" x2="168.03" y2="431.62" stroke="#24438c" stroke-width="0.8" />
<line x1="165.03" y1="416.00" x2="168.03" y2="416.00" stroke="#24438c" stroke-width="0.8" />
<circle cx="166.53" cy="423.81" r="1.9" fill="url(#pb)"/>
<line x1="200.10" y1="417.05" x2="200.10" y2="403.51" stroke="#24438c" stroke-width="1.0" />
<line x1="198.60" y1="417.05" x2="201.60" y2="417.05" stroke="#24438c" stroke-width="0.8" />
<line x1="198.60" y1="403.51" x2="201.60" y2="403.51" stroke="#24438c" stroke-width="0.8" />
<circle cx="200.10" cy="410.28" r="1.9" fill="url(#pb)"/>
<line x1="50.40" y1="379.90" x2="65.50" y2="379.90" stroke="#24438c" stroke-width="0.9" />
<text x="67.20" y="382.42" font-size="7.0" text-anchor="start" fill="#222" >With pH calibration</text>
<line x1="50.40" y1="388.70" x2="65.50" y2="388.70" stroke="#d97ef0" stroke-width="0.9" />
<text x="67.20" y="391.22" font-size="7.0" text-anchor="start" fill="#222" >Without pH calibration</text>
<text x="214.00" y="382.17" font-size="6.3" text-anchor="end" fill="#222" >[Part A]</text>
<text x="66.20" y="416.40" font-size="8.9" text-anchor="start" fill="#2a4a9c" >y=142.287x+250.611</text>
<text x="66.20" y="428.10" font-size="8.9" text-anchor="start" fill="#2a4a9c" >R<tspan font-size="6" dy="-3.5">2</tspan><tspan dy="3.5">=0.996</tspan></text>
<text x="121.60" y="479.20" font-size="8.9" text-anchor="start" fill="#d275ee" >y=131.628x+234.568</text>
<text x="121.60" y="490.90" font-size="8.9" text-anchor="start" fill="#d275ee" >R<tspan font-size="6" dy="-3.5">2</tspan><tspan dy="3.5">=0.997</tspan></text>
<text x="215.00" y="504.87" font-size="6.3" text-anchor="end" fill="#222" >[Subcutaneous glucose = 12 mM]</text>
<text x="133.00" y="535.94" font-size="11.5" text-anchor="middle" fill="#111" >Extraction times</text>
<text transform="translate(16.5,444.4) rotate(-90)" font-size="11.5" text-anchor="middle" fill="#111">Extracted glucose (μM)</text>
<text x="-1.00" y="554.58" font-size="20.5" text-anchor="start" fill="#000" font-weight="bold" >g</text>
<rect x="48.70" y="554.60" width="169.10" height="136.00" fill="none" stroke="#444" stroke-width="0.9"/>
<line x1="65.80" y1="690.60" x2="65.80" y2="693.20" stroke="#444" stroke-width="0.9" />
<line x1="65.80" y1="554.60" x2="65.80" y2="552.00" stroke="#444" stroke-width="0.9" />
<line x1="99.38" y1="690.60" x2="99.38" y2="693.20" stroke="#444" stroke-width="0.9" />
<line x1="99.38" y1="554.60" x2="99.38" y2="552.00" stroke="#444" stroke-width="0.9" />
<line x1="132.95" y1="690.60" x2="132.95" y2="693.20" stroke="#444" stroke-width="0.9" />
<line x1="132.95" y1="554.60" x2="132.95" y2="552.00" stroke="#444" stroke-width="0.9" />
<line x1="166.53" y1="690.60" x2="166.53" y2="693.20" stroke="#444" stroke-width="0.9" />
<line x1="166.53" y1="554.60" x2="166.53" y2="552.00" stroke="#444" stroke-width="0.9" />
<line x1="200.10" y1="690.60" x2="200.10" y2="693.20" stroke="#444" stroke-width="0.9" />
<line x1="200.10" y1="554.60" x2="200.10" y2="552.00" stroke="#444" stroke-width="0.9" />
<line x1="82.59" y1="690.60" x2="82.59" y2="692.10" stroke="#444" stroke-width="0.8" />
<line x1="82.59" y1="554.60" x2="82.59" y2="553.10" stroke="#444" stroke-width="0.8" />
<line x1="116.16" y1="690.60" x2="116.16" y2="692.10" stroke="#444" stroke-width="0.8" />
<line x1="116.16" y1="554.60" x2="116.16" y2="553.10" stroke="#444" stroke-width="0.8" />
<line x1="149.74" y1="690.60" x2="149.74" y2="692.10" stroke="#444" stroke-width="0.8" />
<line x1="149.74" y1="554.60" x2="149.74" y2="553.10" stroke="#444" stroke-width="0.8" />
<line x1="183.31" y1="690.60" x2="183.31" y2="692.10" stroke="#444" stroke-width="0.8" />
<line x1="183.31" y1="554.60" x2="183.31" y2="553.10" stroke="#444" stroke-width="0.8" />
<line x1="48.70" y1="690.60" x2="46.10" y2="690.60" stroke="#444" stroke-width="0.9" />
<line x1="217.80" y1="690.60" x2="220.40" y2="690.60" stroke="#444" stroke-width="0.9" />
<line x1="48.70" y1="659.27" x2="46.10" y2="659.27" stroke="#444" stroke-width="0.9" />
<line x1="217.80" y1="659.27" x2="220.40" y2="659.27" stroke="#444" stroke-width="0.9" />
<line x1="48.70" y1="627.95" x2="46.10" y2="627.95" stroke="#444" stroke-width="0.9" />
<line x1="217.80" y1="627.95" x2="220.40" y2="627.95" stroke="#444" stroke-width="0.9" />
<line x1="48.70" y1="596.62" x2="46.10" y2="596.62" stroke="#444" stroke-width="0.9" />
<line x1="217.80" y1="596.62" x2="220.40" y2="596.62" stroke="#444" stroke-width="0.9" />
<line x1="48.70" y1="565.30" x2="46.10" y2="565.30" stroke="#444" stroke-width="0.9" />
<line x1="217.80" y1="565.30" x2="220.40" y2="565.30" stroke="#444" stroke-width="0.9" />
<line x1="48.70" y1="674.94" x2="47.20" y2="674.94" stroke="#444" stroke-width="0.8" />
<line x1="217.80" y1="674.94" x2="219.30" y2="674.94" stroke="#444" stroke-width="0.8" />
<line x1="48.70" y1="643.61" x2="47.20" y2="643.61" stroke="#444" stroke-width="0.8" />
<line x1="217.80" y1="643.61" x2="219.30" y2="643.61" stroke="#444" stroke-width="0.8" />
<line x1="48.70" y1="612.29" x2="47.20" y2="612.29" stroke="#444" stroke-width="0.8" />
<line x1="217.80" y1="612.29" x2="219.30" y2="612.29" stroke="#444" stroke-width="0.8" />
<line x1="48.70" y1="580.96" x2="47.20" y2="580.96" stroke="#444" stroke-width="0.8" />
<line x1="217.80" y1="580.96" x2="219.30" y2="580.96" stroke="#444" stroke-width="0.8" />
<text x="65.80" y="703.88" font-size="10.5" text-anchor="middle" fill="#111" >1</text>
<text x="99.38" y="703.88" font-size="10.5" text-anchor="middle" fill="#111" >2</text>
<text x="132.95" y="703.88" font-size="10.5" text-anchor="middle" fill="#111" >3</text>
<text x="166.53" y="703.88" font-size="10.5" text-anchor="middle" fill="#111" >4</text>
<text x="200.10" y="703.88" font-size="10.5" text-anchor="middle" fill="#111" >5</text>
<text x="44.90" y="694.38" font-size="10.5" text-anchor="end" fill="#111" >0</text>
<text x="44.90" y="663.05" font-size="10.5" text-anchor="end" fill="#111" >300</text>
<text x="44.90" y="631.73" font-size="10.5" text-anchor="end" fill="#111" >600</text>
<text x="44.90" y="600.40" font-size="10.5" text-anchor="end" fill="#111" >900</text>
<text x="44.90" y="569.08" font-size="10.5" text-anchor="end" fill="#111" >1200</text>
<line x1="64.79" y1="652.17" x2="201.11" y2="592.01" stroke="#24438c" stroke-width="0.9" />
<line x1="64.79" y1="654.70" x2="201.11" y2="598.73" stroke="#d97ef0" stroke-width="0.9" />
<line x1="65.80" y1="654.79" x2="65.80" y2="652.28" stroke="#d97ef0" stroke-width="0.8" />
<line x1="64.30" y1="654.79" x2="67.30" y2="654.79" stroke="#d97ef0" stroke-width="0.8" />
<line x1="64.30" y1="652.28" x2="67.30" y2="652.28" stroke="#d97ef0" stroke-width="0.8" />
<circle cx="65.80" cy="653.53" r="1.9" fill="url(#pp)"/>
<line x1="99.38" y1="645.18" x2="99.38" y2="636.83" stroke="#d97ef0" stroke-width="0.8" />
<line x1="97.88" y1="645.18" x2="100.88" y2="645.18" stroke="#d97ef0" stroke-width="0.8" />
<line x1="97.88" y1="636.83" x2="100.88" y2="636.83" stroke="#d97ef0" stroke-width="0.8" />
<circle cx="99.38" cy="641.00" r="1.9" fill="url(#pp)"/>
<line x1="132.95" y1="635.26" x2="132.95" y2="620.64" stroke="#d97ef0" stroke-width="0.8" />
<line x1="131.45" y1="635.26" x2="134.45" y2="635.26" stroke="#d97ef0" stroke-width="0.8" />
<line x1="131.45" y1="620.64" x2="134.45" y2="620.64" stroke="#d97ef0" stroke-width="0.8" />
<circle cx="132.95" cy="627.95" r="1.9" fill="url(#pp)"/>
<line x1="166.53" y1="624.82" x2="166.53" y2="601.85" stroke="#d97ef0" stroke-width="0.8" />
<line x1="165.03" y1="624.82" x2="168.03" y2="624.82" stroke="#d97ef0" stroke-width="0.8" />
<line x1="165.03" y1="601.85" x2="168.03" y2="601.85" stroke="#d97ef0" stroke-width="0.8" />
<circle cx="166.53" cy="613.33" r="1.9" fill="url(#pp)"/>
<line x1="200.10" y1="619.60" x2="200.10" y2="577.83" stroke="#d97ef0" stroke-width="0.8" />
<line x1="198.60" y1="619.60" x2="201.60" y2="619.60" stroke="#d97ef0" stroke-width="0.8" />
<line x1="198.60" y1="577.83" x2="201.60" y2="577.83" stroke="#d97ef0" stroke-width="0.8" />
<circle cx="200.10" cy="598.71" r="1.9" fill="url(#pp)"/>
<line x1="65.80" y1="652.17" x2="65.80" y2="649.67" stroke="#24438c" stroke-width="1.0" />
<line x1="64.30" y1="652.17" x2="67.30" y2="652.17" stroke="#24438c" stroke-width="0.8" />
<line x1="64.30" y1="649.67" x2="67.30" y2="649.67" stroke="#24438c" stroke-width="0.8" />
<circle cx="65.80" cy="650.92" r="1.9" fill="url(#pb)"/>
<line x1="99.38" y1="641.52" x2="99.38" y2="633.17" stroke="#24438c" stroke-width="1.0" />
<line x1="97.88" y1="641.52" x2="100.88" y2="641.52" stroke="#24438c" stroke-width="0.8" />
<line x1="97.88" y1="633.17" x2="100.88" y2="633.17" stroke="#24438c" stroke-width="0.8" />
<circle cx="99.38" cy="637.35" r="1.9" fill="url(#pb)"/>
<line x1="132.95" y1="631.60" x2="132.95" y2="614.90" stroke="#24438c" stroke-width="1.0" />
<line x1="131.45" y1="631.60" x2="134.45" y2="631.60" stroke="#24438c" stroke-width="0.8" />
<line x1="131.45" y1="614.90" x2="134.45" y2="614.90" stroke="#24438c" stroke-width="0.8" />
<circle cx="132.95" cy="623.25" r="1.9" fill="url(#pb)"/>
<line x1="166.53" y1="620.64" x2="166.53" y2="595.58" stroke="#24438c" stroke-width="1.0" />
<line x1="165.03" y1="620.64" x2="168.03" y2="620.64" stroke="#24438c" stroke-width="0.8" />
<line x1="165.03" y1="595.58" x2="168.03" y2="595.58" stroke="#24438c" stroke-width="0.8" />
<circle cx="166.53" cy="608.11" r="1.9" fill="url(#pb)"/>
<line x1="200.10" y1="614.38" x2="200.10" y2="568.43" stroke="#24438c" stroke-width="1.0" />
<line x1="198.60" y1="614.38" x2="201.60" y2="614.38" stroke="#24438c" stroke-width="0.8" />
<line x1="198.60" y1="568.43" x2="201.60" y2="568.43" stroke="#24438c" stroke-width="0.8" />
<circle cx="200.10" cy="591.40" r="1.9" fill="url(#pb)"/>
<line x1="50.40" y1="560.00" x2="65.50" y2="560.00" stroke="#24438c" stroke-width="0.9" />
<text x="67.20" y="562.52" font-size="7.0" text-anchor="start" fill="#222" >With pH calibration</text>
<line x1="50.40" y1="568.80" x2="65.50" y2="568.80" stroke="#d97ef0" stroke-width="0.9" />
<text x="67.20" y="571.32" font-size="7.0" text-anchor="start" fill="#222" >Without pH calibration</text>
<text x="214.00" y="562.27" font-size="6.3" text-anchor="end" fill="#222" >[Part B]</text>
<text x="68.80" y="599.40" font-size="8.9" text-anchor="start" fill="#2a4a9c" >y=141.911x+230.362</text>
<text x="68.80" y="611.10" font-size="8.9" text-anchor="start" fill="#2a4a9c" >R<tspan font-size="6" dy="-3.5">2</tspan><tspan dy="3.5">=0.997</tspan></text>
<text x="121.60" y="654.20" font-size="8.9" text-anchor="start" fill="#d275ee" >y=132.039x+215.729</text>
<text x="121.60" y="665.90" font-size="8.9" text-anchor="start" fill="#d275ee" >R<tspan font-size="6" dy="-3.5">2</tspan><tspan dy="3.5">=0.997</tspan></text>
<text x="215.00" y="685.27" font-size="6.3" text-anchor="end" fill="#222" >[Subcutaneous glucose = 12 mM]</text>
<text x="133.00" y="716.14" font-size="11.5" text-anchor="middle" fill="#111" >Extraction times</text>
<text transform="translate(16.5,624.6) rotate(-90)" font-size="11.5" text-anchor="middle" fill="#111">Extracted glucose (μM)</text>
<text x="241.80" y="380.08" font-size="20.5" text-anchor="start" fill="#000" font-weight="bold" >e</text>
<polyline points="293.2,424.2 293.3,442.4 293.4,454.5 293.6,462.7 293.7,468.4 293.8,472.4 293.9,475.4 294.0,477.6 294.2,479.2 294.3,480.5 294.4,481.5 294.5,482.3 294.6,483.0 294.8,483.6 294.9,484.1 295.0,484.5 295.1,484.9 295.2,485.2 295.4,485.5 295.5,485.8 295.6,486.1 295.7,486.3 295.8,486.5 296.0,486.7 296.1,486.9 296.2,487.1 296.3,487.2 296.4,487.4 296.6,487.5 296.7,487.6 296.8,487.8 296.9,487.9 297.1,488.0 297.2,488.1 297.3,488.2 297.4,488.3 297.5,488.4 297.7,488.5 297.8,488.6 297.9,488.6 298.0,488.7 298.1,488.8 298.3,488.8 298.4,488.9 298.5,489.0 298.6,489.0 298.7,489.1 298.9,489.2 299.0,489.2 299.1,489.3 299.2,489.3 299.3,489.4 299.5,489.4 299.6,489.5 299.7,489.5 299.8,489.5 299.9,489.6 300.1,489.6 300.2,489.7 300.3,489.7 300.4,489.7 300.5,489.8 300.7,489.8 300.8,489.9 300.9,489.9 301.0,489.9 301.1,490.0 301.3,490.0 301.4,490.0 301.5,490.0 301.6,490.1 301.7,490.1 301.9,490.1 302.0,490.2 302.1,490.2 302.2,490.2 302.3,490.2 302.5,490.3 302.6,490.3 302.7,490.3 302.8,490.3 302.9,490.4 303.1,490.4 303.2,490.4 303.3,490.4 303.4,490.4 303.5,490.5 303.7,490.5 303.8,490.5 303.9,490.5 304.0,490.5 304.2,490.6 304.3,490.6 304.4,490.6 304.5,490.6 304.6,490.6 304.8,490.7 304.9,490.7 305.0,490.7 305.1,490.7 305.2,490.7 305.8,490.8 306.4,490.9 307.0,490.9 307.6,491.0 308.2,491.1 308.8,491.1 309.4,491.2 310.0,491.2 310.6,491.3 311.2,491.3 311.9,491.4 312.5,491.4 313.1,491.5 313.7,491.5 314.3,491.6 314.9,491.6 315.5,491.5 316.1,491.5 316.7,491.4 317.3,491.4 317.9,491.4 318.5,491.3 319.1,491.3 319.7,491.2 320.3,491.2 320.9,491.2 321.5,491.1 322.1,491.1 322.7,491.1 323.3,491.0 323.9,491.0 324.5,491.0 325.1,490.9 325.7,490.9 326.3,490.9 326.9,490.8 327.5,490.8 328.1,490.8 328.7,490.8 329.3,490.7 329.9,490.7 330.5,490.7 331.1,490.6 331.7,490.6 332.3,490.6 332.9,490.6 333.5,490.5 334.1,490.5 334.7,490.5 335.3,490.4 335.9,490.4 336.5,490.4 337.1,490.4 337.7,490.3 338.3,490.3 338.9,490.3 339.5,490.3 340.1,490.2 340.7,490.2 341.3,490.2 341.9,490.1 342.5,490.1 343.1,490.1 343.7,490.1 344.3,490.0 344.9,490.0 345.5,490.0 346.1,490.0 346.7,489.9 347.4,489.9 348.0,489.9 348.6,489.9 349.2,489.8 349.8,489.8 350.4,489.8 351.0,489.8 351.6,489.7 352.2,489.7 352.8,489.7 353.4,489.7 354.0,489.6 354.6,489.6 355.2,489.6 355.8,489.6 356.4,489.5 357.0,489.5 357.6,489.5 358.2,489.5 358.8,489.5 359.4,489.4 360.0,489.4 360.6,489.4 361.2,489.4 361.8,489.3 362.4,489.3 363.0,489.3 363.6,489.3 364.2,489.2 364.8,489.2 365.4,489.2 366.0,489.2 366.6,489.2 367.2,489.1 367.8,489.1 368.4,489.1 369.0,489.1 369.6,489.0 370.2,489.0 370.8,489.0 371.4,489.0 372.0,488.9 372.6,488.9 373.2,488.9 373.8,488.9 374.4,488.9 375.0,488.8 375.6,488.8 376.2,488.8 376.8,488.8 377.4,488.7 378.0,488.7 378.6,488.7 379.2,488.7 379.8,488.7 380.4,488.6 381.0,488.6 381.6,488.6 382.2,488.6 382.8,488.6 383.4,488.5 384.1,488.5 384.7,488.5 385.3,488.5 385.9,488.4 386.5,488.4 387.1,488.4 387.7,488.4 388.3,488.4 388.9,488.3 389.5,488.3 390.1,488.3 390.7,488.3 391.3,488.3 391.9,488.2 392.5,488.2 393.1,488.2 393.7,488.2 394.3,488.1 394.9,488.1 395.5,488.1 396.1,488.1 396.7,488.1 397.3,488.0 397.9,488.0 398.5,488.0 399.1,488.0 399.7,488.0 400.3,487.9 400.9,487.9 401.5,487.9 402.1,487.9 402.7,487.9 403.3,487.8 403.9,487.8 404.5,487.8 405.1,487.8 405.7,487.8 406.3,487.7 406.9,487.7 407.5,487.7 408.1,487.7 408.7,487.7 409.3,487.6 409.9,487.6 410.5,487.6 411.1,487.6 411.7,487.6 412.3,487.5 412.9,487.5 413.5,487.5 414.1,487.5 414.7,487.5 415.3,487.4 415.9,487.4 416.5,487.4 417.1,487.4 417.7,487.4 418.3,487.3 418.9,487.3 419.6,487.3 420.2,487.3 420.8,487.3 421.4,487.2 422.0,487.2 422.6,487.2 423.2,487.2 423.8,487.2 424.4,487.1 425.0,487.1 425.6,487.1 426.2,487.1 426.8,487.1 427.4,487.0 428.0,487.0 428.6,487.0 429.2,487.0 429.8,487.0 430.4,486.9 431.0,486.9 431.6,486.9 432.2,486.9 432.8,486.9 433.4,486.8 434.0,486.8 434.6,486.8 435.2,486.8 435.8,486.8 436.4,486.7 437.0,486.7 437.6,486.7" stroke="#8c8c8c" stroke-width="0.9" fill="none" />
<polyline points="293.2,416.8 293.3,434.6 293.4,446.4 293.6,454.4 293.7,460.0 293.8,463.9 293.9,466.8 294.0,468.9 294.2,470.5 294.3,471.8 294.4,472.8 294.5,473.6 294.6,474.3 294.8,474.8 294.9,475.3 295.0,475.7 295.1,476.1 295.2,476.5 295.4,476.8 295.5,477.1 295.6,477.3 295.7,477.5 295.8,477.8 296.0,478.0 296.1,478.1 296.2,478.3 296.3,478.5 296.4,478.6 296.6,478.8 296.7,478.9 296.8,479.1 296.9,479.2 297.1,479.3 297.2,479.4 297.3,479.5 297.4,479.6 297.5,479.7 297.7,479.8 297.8,479.9 297.9,480.0 298.0,480.1 298.1,480.1 298.3,480.2 298.4,480.3 298.5,480.4 298.6,480.4 298.7,480.5 298.9,480.6 299.0,480.6 299.1,480.7 299.2,480.7 299.3,480.8 299.5,480.8 299.6,480.9 299.7,481.0 299.8,481.0 299.9,481.1 300.1,481.1 300.2,481.2 300.3,481.2 300.4,481.2 300.5,481.3 300.7,481.3 300.8,481.4 300.9,481.4 301.0,481.5 301.1,481.5 301.3,481.5 301.4,481.6 301.5,481.6 301.6,481.6 301.7,481.7 301.9,481.7 302.0,481.8 302.1,481.8 302.2,481.8 302.3,481.9 302.5,481.9 302.6,481.9 302.7,482.0 302.8,482.0 302.9,482.0 303.1,482.0 303.2,482.1 303.3,482.1 303.4,482.1 303.5,482.2 303.7,482.2 303.8,482.2 303.9,482.2 304.0,482.3 304.2,482.3 304.3,482.3 304.4,482.4 304.5,482.4 304.6,482.4 304.8,482.4 304.9,482.5 305.0,482.5 305.1,482.5 305.2,482.5 305.8,482.5 306.4,482.4 307.0,482.4 307.6,482.4 308.2,482.3 308.8,482.3 309.4,482.3 310.0,482.3 310.6,482.2 311.2,482.2 311.9,482.2 312.5,482.2 313.1,482.1 313.7,482.1 314.3,482.1 314.9,482.1 315.5,482.0 316.1,482.0 316.7,482.0 317.3,482.0 317.9,481.9 318.5,481.9 319.1,481.9 319.7,481.9 320.3,481.8 320.9,481.8 321.5,481.8 322.1,481.8 322.7,481.8 323.3,481.7 323.9,481.7 324.5,481.7 325.1,481.7 325.7,481.7 326.3,481.6 326.9,481.6 327.5,481.6 328.1,481.6 328.7,481.6 329.3,481.5 329.9,481.5 330.5,481.5 331.1,481.5 331.7,481.5 332.3,481.4 332.9,481.4 333.5,481.4 334.1,481.4 334.7,481.4 335.3,481.3 335.9,481.3 336.5,481.3 337.1,481.3 337.7,481.3 338.3,481.2 338.9,481.2 339.5,481.2 340.1,481.2 340.7,481.2 341.3,481.2 341.9,481.1 342.5,481.1 343.1,481.1 343.7,481.1 344.3,481.1 344.9,481.0 345.5,481.0 346.1,481.0 346.7,481.0 347.4,481.0 348.0,481.0 348.6,480.9 349.2,480.9 349.8,480.9 350.4,480.9 351.0,480.9 351.6,480.8 352.2,480.8 352.8,480.8 353.4,480.8 354.0,480.8 354.6,480.8 355.2,480.7 355.8,480.7 356.4,480.7 357.0,480.7 357.6,480.7 358.2,480.7 358.8,480.6 359.4,480.6 360.0,480.6 360.6,480.6 361.2,480.6 361.8,480.6 362.4,480.5 363.0,480.5 363.6,480.5 364.2,480.5 364.8,480.5 365.4,480.4 366.0,480.4 366.6,480.4 367.2,480.4 367.8,480.4 368.4,480.4 369.0,480.4 369.6,480.3 370.2,480.3 370.8,480.3 371.4,480.3 372.0,480.3 372.6,480.3 373.2,480.2 373.8,480.2 374.4,480.2 375.0,480.2 375.6,480.2 376.2,480.2 376.8,480.1 377.4,480.1 378.0,480.1 378.6,480.1 379.2,480.1 379.8,480.1 380.4,480.0 381.0,480.0 381.6,480.0 382.2,480.0 382.8,480.0 383.4,480.0 384.1,479.9 384.7,479.9 385.3,479.9 385.9,479.9 386.5,479.9 387.1,479.9 387.7,479.9 388.3,479.8 388.9,479.8 389.5,479.8 390.1,479.8 390.7,479.8 391.3,479.8 391.9,479.7 392.5,479.7 393.1,479.7 393.7,479.7 394.3,479.7 394.9,479.7 395.5,479.6 396.1,479.6 396.7,479.6 397.3,479.6 397.9,479.6 398.5,479.6 399.1,479.6 399.7,479.5 400.3,479.5 400.9,479.5 401.5,479.5 402.1,479.5 402.7,479.5 403.3,479.5 403.9,479.4 404.5,479.4 405.1,479.4 405.7,479.4 406.3,479.4 406.9,479.4 407.5,479.3 408.1,479.3 408.7,479.3 409.3,479.3 409.9,479.3 410.5,479.3 411.1,479.3 411.7,479.2 412.3,479.2 412.9,479.2 413.5,479.2 414.1,479.2 414.7,479.2 415.3,479.2 415.9,479.1 416.5,479.1 417.1,479.1 417.7,479.1 418.3,479.1 418.9,479.1 419.6,479.0 420.2,479.0 420.8,479.0 421.4,479.0 422.0,479.0 422.6,479.0 423.2,479.0 423.8,478.9 424.4,478.9 425.0,478.9 425.6,478.9 426.2,478.9 426.8,478.9 427.4,478.9 428.0,478.8 428.6,478.8 429.2,478.8 429.8,478.8 430.4,478.8 431.0,478.8 431.6,478.8 432.2,478.7 432.8,478.7 433.4,478.7 434.0,478.7 434.6,478.7 435.2,478.7 435.8,478.7 436.4,478.6 437.0,478.6 437.6,478.6" stroke="#e8474a" stroke-width="0.9" fill="none" />
<polyline points="293.2,409.5 293.3,427.4 293.4,439.2 293.6,447.3 293.7,452.9 293.8,456.9 293.9,459.8 294.0,461.9 294.2,463.6 294.3,464.8 294.4,465.8 294.5,466.6 294.6,467.3 294.8,467.9 294.9,468.4 295.0,468.8 295.1,469.2 295.2,469.6 295.4,469.9 295.5,470.1 295.6,470.4 295.7,470.6 295.8,470.9 296.0,471.1 296.1,471.2 296.2,471.4 296.3,471.6 296.4,471.7 296.6,471.9 296.7,472.0 296.8,472.2 296.9,472.3 297.1,472.4 297.2,472.5 297.3,472.6 297.4,472.7 297.5,472.8 297.7,472.9 297.8,473.0 297.9,473.1 298.0,473.2 298.1,473.3 298.3,473.3 298.4,473.4 298.5,473.5 298.6,473.5 298.7,473.6 298.9,473.7 299.0,473.7 299.1,473.8 299.2,473.9 299.3,473.9 299.5,474.0 299.6,474.0 299.7,474.1 299.8,474.1 299.9,474.2 300.1,474.2 300.2,474.3 300.3,474.3 300.4,474.4 300.5,474.4 300.7,474.5 300.8,474.5 300.9,474.5 301.0,474.6 301.1,474.6 301.3,474.7 301.4,474.7 301.5,474.7 301.6,474.8 301.7,474.8 301.9,474.8 302.0,474.9 302.1,474.9 302.2,475.0 302.3,475.0 302.5,475.0 302.6,475.1 302.7,475.1 302.8,475.1 302.9,475.1 303.1,475.2 303.2,475.2 303.3,475.2 303.4,475.3 303.5,475.3 303.7,475.3 303.8,475.4 303.9,475.4 304.0,475.4 304.2,475.4 304.3,475.5 304.4,475.5 304.5,475.5 304.6,475.5 304.8,475.6 304.9,475.6 305.0,475.6 305.1,475.6 305.2,475.7 305.8,475.6 306.4,475.5 307.0,475.5 307.6,475.5 308.2,475.4 308.8,475.4 309.4,475.3 310.0,475.3 310.6,475.3 311.2,475.2 311.9,475.2 312.5,475.1 313.1,475.1 313.7,475.1 314.3,475.0 314.9,475.0 315.5,475.0 316.1,474.9 316.7,474.9 317.3,474.9 317.9,474.8 318.5,474.8 319.1,474.8 319.7,474.8 320.3,474.7 320.9,474.7 321.5,474.7 322.1,474.6 322.7,474.6 323.3,474.6 323.9,474.5 324.5,474.5 325.1,474.5 325.7,474.5 326.3,474.4 326.9,474.4 327.5,474.4 328.1,474.3 328.7,474.3 329.3,474.3 329.9,474.3 330.5,474.2 331.1,474.2 331.7,474.2 332.3,474.2 332.9,474.1 333.5,474.1 334.1,474.1 334.7,474.0 335.3,474.0 335.9,474.0 336.5,474.0 337.1,473.9 337.7,473.9 338.3,473.9 338.9,473.9 339.5,473.8 340.1,473.8 340.7,473.8 341.3,473.8 341.9,473.7 342.5,473.7 343.1,473.7 343.7,473.7 344.3,473.6 344.9,473.6 345.5,473.6 346.1,473.6 346.7,473.5 347.4,473.5 348.0,473.5 348.6,473.5 349.2,473.4 349.8,473.4 350.4,473.4 351.0,473.4 351.6,473.3 352.2,473.3 352.8,473.3 353.4,473.3 354.0,473.2 354.6,473.2 355.2,473.2 355.8,473.2 356.4,473.2 357.0,473.1 357.6,473.1 358.2,473.1 358.8,473.1 359.4,473.0 360.0,473.0 360.6,473.0 361.2,473.0 361.8,472.9 362.4,472.9 363.0,472.9 363.6,472.9 364.2,472.8 364.8,472.8 365.4,472.8 366.0,472.8 366.6,472.8 367.2,472.7 367.8,472.7 368.4,472.7 369.0,472.7 369.6,472.6 370.2,472.6 370.8,472.6 371.4,472.6 372.0,472.6 372.6,472.5 373.2,472.5 373.8,472.5 374.4,472.5 375.0,472.4 375.6,472.4 376.2,472.4 376.8,472.4 377.4,472.4 378.0,472.3 378.6,472.3 379.2,472.3 379.8,472.3 380.4,472.2 381.0,472.2 381.6,472.2 382.2,472.2 382.8,472.2 383.4,472.1 384.1,472.1 384.7,472.1 385.3,472.1 385.9,472.0 386.5,472.0 387.1,472.0 387.7,472.0 388.3,472.0 388.9,471.9 389.5,471.9 390.1,471.9 390.7,471.9 391.3,471.9 391.9,471.8 392.5,471.8 393.1,471.8 393.7,471.8 394.3,471.7 394.9,471.7 395.5,471.7 396.1,471.7 396.7,471.7 397.3,471.6 397.9,471.6 398.5,471.6 399.1,471.6 399.7,471.6 400.3,471.5 400.9,471.5 401.5,471.5 402.1,471.5 402.7,471.4 403.3,471.4 403.9,471.4 404.5,471.4 405.1,471.4 405.7,471.3 406.3,471.3 406.9,471.3 407.5,471.3 408.1,471.3 408.7,471.2 409.3,471.2 409.9,471.2 410.5,471.2 411.1,471.2 411.7,471.1 412.3,471.1 412.9,471.1 413.5,471.1 414.1,471.1 414.7,471.0 415.3,471.0 415.9,471.0 416.5,471.0 417.1,471.0 417.7,470.9 418.3,470.9 418.9,470.9 419.6,470.9 420.2,470.9 420.8,470.8 421.4,470.8 422.0,470.8 422.6,470.8 423.2,470.8 423.8,470.7 424.4,470.7 425.0,470.7 425.6,470.7 426.2,470.7 426.8,470.6 427.4,470.6 428.0,470.6 428.6,470.6 429.2,470.6 429.8,470.5 430.4,470.5 431.0,470.5 431.6,470.5 432.2,470.5 432.8,470.4 433.4,470.4 434.0,470.4 434.6,470.4 435.2,470.4 435.8,470.3 436.4,470.3 437.0,470.3 437.6,470.3" stroke="#3f7fe0" stroke-width="0.9" fill="none" />
<polyline points="293.2,402.1 293.3,419.7 293.4,431.3 293.6,439.3 293.7,444.8 293.8,448.7 293.9,451.5 294.0,453.7 294.2,455.3 294.3,456.5 294.4,457.5 294.5,458.3 294.6,459.0 294.8,459.6 294.9,460.0 295.0,460.5 295.1,460.9 295.2,461.2 295.4,461.5 295.5,461.8 295.6,462.1 295.7,462.3 295.8,462.5 296.0,462.7 296.1,462.9 296.2,463.1 296.3,463.3 296.4,463.4 296.6,463.6 296.7,463.7 296.8,463.8 296.9,464.0 297.1,464.1 297.2,464.2 297.3,464.3 297.4,464.4 297.5,464.5 297.7,464.6 297.8,464.7 297.9,464.8 298.0,464.9 298.1,465.0 298.3,465.1 298.4,465.2 298.5,465.2 298.6,465.3 298.7,465.4 298.9,465.5 299.0,465.5 299.1,465.6 299.2,465.7 299.3,465.7 299.5,465.8 299.6,465.8 299.7,465.9 299.8,466.0 299.9,466.0 300.1,466.1 300.2,466.1 300.3,466.2 300.4,466.2 300.5,466.3 300.7,466.3 300.8,466.4 300.9,466.4 301.0,466.5 301.1,466.5 301.3,466.6 301.4,466.6 301.5,466.6 301.6,466.7 301.7,466.7 301.9,466.8 302.0,466.8 302.1,466.9 302.2,466.9 302.3,466.9 302.5,467.0 302.6,467.0 302.7,467.1 302.8,467.1 302.9,467.1 303.1,467.1 303.2,467.0 303.3,467.0 303.4,467.0 303.5,467.0 303.7,467.0 303.8,467.0 303.9,467.0 304.0,467.0 304.2,467.0 304.3,467.0 304.4,467.0 304.5,466.9 304.6,466.9 304.8,466.9 304.9,466.9 305.0,466.9 305.1,466.9 305.2,466.9 305.8,466.9 306.4,466.8 307.0,466.8 307.6,466.7 308.2,466.7 308.8,466.7 309.4,466.6 310.0,466.6 310.6,466.6 311.2,466.6 311.9,466.5 312.5,466.5 313.1,466.5 313.7,466.4 314.3,466.4 314.9,466.4 315.5,466.4 316.1,466.3 316.7,466.3 317.3,466.3 317.9,466.2 318.5,466.2 319.1,466.2 319.7,466.2 320.3,466.1 320.9,466.1 321.5,466.1 322.1,466.1 322.7,466.0 323.3,466.0 323.9,466.0 324.5,466.0 325.1,465.9 325.7,465.9 326.3,465.9 326.9,465.9 327.5,465.8 328.1,465.8 328.7,465.8 329.3,465.8 329.9,465.7 330.5,465.7 331.1,465.7 331.7,465.7 332.3,465.6 332.9,465.6 333.5,465.6 334.1,465.6 334.7,465.5 335.3,465.5 335.9,465.5 336.5,465.5 337.1,465.4 337.7,465.4 338.3,465.4 338.9,465.4 339.5,465.4 340.1,465.3 340.7,465.3 341.3,465.3 341.9,465.3 342.5,465.2 343.1,465.2 343.7,465.2 344.3,465.2 344.9,465.2 345.5,465.1 346.1,465.1 346.7,465.1 347.4,465.1 348.0,465.0 348.6,465.0 349.2,465.0 349.8,465.0 350.4,465.0 351.0,464.9 351.6,464.9 352.2,464.9 352.8,464.9 353.4,464.9 354.0,464.8 354.6,464.8 355.2,464.8 355.8,464.8 356.4,464.7 357.0,464.7 357.6,464.7 358.2,464.7 358.8,464.7 359.4,464.6 360.0,464.6 360.6,464.6 361.2,464.6 361.8,464.6 362.4,464.5 363.0,464.5 363.6,464.5 364.2,464.5 364.8,464.5 365.4,464.4 366.0,464.4 366.6,464.4 367.2,464.4 367.8,464.4 368.4,464.3 369.0,464.3 369.6,464.3 370.2,464.3 370.8,464.3 371.4,464.2 372.0,464.2 372.6,464.2 373.2,464.2 373.8,464.2 374.4,464.1 375.0,464.1 375.6,464.1 376.2,464.1 376.8,464.1 377.4,464.0 378.0,464.0 378.6,464.0 379.2,464.0 379.8,464.0 380.4,463.9 381.0,463.9 381.6,463.9 382.2,463.9 382.8,463.9 383.4,463.8 384.1,463.8 384.7,463.8 385.3,463.8 385.9,463.8 386.5,463.7 387.1,463.7 387.7,463.7 388.3,463.7 388.9,463.7 389.5,463.6 390.1,463.6 390.7,463.6 391.3,463.6 391.9,463.6 392.5,463.6 393.1,463.5 393.7,463.5 394.3,463.5 394.9,463.5 395.5,463.5 396.1,463.4 396.7,463.4 397.3,463.4 397.9,463.4 398.5,463.4 399.1,463.3 399.7,463.3 400.3,463.3 400.9,463.3 401.5,463.3 402.1,463.2 402.7,463.2 403.3,463.2 403.9,463.2 404.5,463.2 405.1,463.2 405.7,463.1 406.3,463.1 406.9,463.1 407.5,463.1 408.1,463.1 408.7,463.0 409.3,463.0 409.9,463.0 410.5,463.0 411.1,463.0 411.7,463.0 412.3,462.9 412.9,462.9 413.5,462.9 414.1,462.9 414.7,462.9 415.3,462.8 415.9,462.8 416.5,462.8 417.1,462.8 417.7,462.8 418.3,462.8 418.9,462.7 419.6,462.7 420.2,462.7 420.8,462.7 421.4,462.7 422.0,462.6 422.6,462.6 423.2,462.6 423.8,462.6 424.4,462.6 425.0,462.6 425.6,462.5 426.2,462.5 426.8,462.5 427.4,462.5 428.0,462.5 428.6,462.5 429.2,462.4 429.8,462.4 430.4,462.4 431.0,462.4 431.6,462.4 432.2,462.3 432.8,462.3 433.4,462.3 434.0,462.3 434.6,462.3 435.2,462.3 435.8,462.2 436.4,462.2 437.0,462.2 437.6,462.2" stroke="#3aa56a" stroke-width="0.9" fill="none" />
<polyline points="293.2,394.8 293.3,413.2 293.4,425.4 293.6,433.8 293.7,439.5 293.8,443.7 293.9,446.6 294.0,448.9 294.2,450.6 294.3,451.9 294.4,452.9 294.5,453.8 294.6,454.5 294.8,455.1 294.9,455.6 295.0,456.1 295.1,456.5 295.2,456.8 295.4,457.2 295.5,457.5 295.6,457.8 295.7,458.0 295.8,458.3 296.0,458.5 296.1,458.7 296.2,458.9 296.3,459.1 296.4,459.2 296.6,459.4 296.7,459.6 296.8,459.7 296.9,459.8 297.1,460.0 297.2,460.1 297.3,460.2 297.4,460.3 297.5,460.5 297.7,460.6 297.8,460.7 297.9,460.8 298.0,460.9 298.1,461.0 298.3,461.1 298.4,461.2 298.5,461.2 298.6,461.3 298.7,461.4 298.9,461.5 299.0,461.6 299.1,461.6 299.2,461.7 299.3,461.8 299.5,461.9 299.6,461.9 299.7,462.0 299.8,462.1 299.9,462.1 300.1,462.2 300.2,462.2 300.3,462.3 300.4,462.4 300.5,462.4 300.7,462.5 300.8,462.5 300.9,462.6 301.0,462.7 301.1,462.7 301.3,462.8 301.4,462.8 301.5,462.9 301.6,462.9 301.7,462.9 301.9,462.9 302.0,462.8 302.1,462.8 302.2,462.8 302.3,462.8 302.5,462.8 302.6,462.8 302.7,462.7 302.8,462.7 302.9,462.7 303.1,462.7 303.2,462.7 303.3,462.7 303.4,462.7 303.5,462.6 303.7,462.6 303.8,462.6 303.9,462.6 304.0,462.6 304.2,462.6 304.3,462.6 304.4,462.5 304.5,462.5 304.6,462.5 304.8,462.5 304.9,462.5 305.0,462.5 305.1,462.5 305.2,462.5 305.8,462.4 306.4,462.3 307.0,462.3 307.6,462.2 308.2,462.2 308.8,462.1 309.4,462.0 310.0,462.0 310.6,461.9 311.2,461.9 311.9,461.8 312.5,461.8 313.1,461.6 313.7,461.3 314.3,461.1 314.9,460.9 315.5,460.6 316.1,460.4 316.7,460.2 317.3,459.9 317.9,459.9 318.5,459.8 319.1,459.8 319.7,459.7 320.3,459.7 320.9,459.7 321.5,459.6 322.1,459.6 322.7,459.5 323.3,459.5 323.9,459.4 324.5,459.4 325.1,459.3 325.7,459.3 326.3,459.3 326.9,459.2 327.5,459.2 328.1,459.1 328.7,459.1 329.3,459.0 329.9,459.0 330.5,459.0 331.1,458.9 331.7,458.9 332.3,458.8 332.9,458.8 333.5,458.8 334.1,458.7 334.7,458.7 335.3,458.6 335.9,458.6 336.5,458.6 337.1,458.5 337.7,458.5 338.3,458.4 338.9,458.4 339.5,458.4 340.1,458.3 340.7,458.3 341.3,458.2 341.9,458.2 342.5,458.2 343.1,458.1 343.7,458.1 344.3,458.1 344.9,458.0 345.5,458.0 346.1,457.9 346.7,457.9 347.4,457.9 348.0,457.8 348.6,457.8 349.2,457.7 349.8,457.7 350.4,457.7 351.0,457.6 351.6,457.6 352.2,457.6 352.8,457.5 353.4,457.5 354.0,457.5 354.6,457.4 355.2,457.4 355.8,457.3 356.4,457.3 357.0,457.3 357.6,457.2 358.2,457.2 358.8,457.2 359.4,457.1 360.0,457.1 360.6,457.1 361.2,457.0 361.8,457.0 362.4,456.9 363.0,456.9 363.6,456.9 364.2,456.8 364.8,456.8 365.4,456.8 366.0,456.7 366.6,456.7 367.2,456.7 367.8,456.6 368.4,456.6 369.0,456.6 369.6,456.5 370.2,456.5 370.8,456.5 371.4,456.4 372.0,456.4 372.6,456.3 373.2,456.3 373.8,456.3 374.4,456.2 375.0,456.2 375.6,456.2 376.2,456.1 376.8,456.1 377.4,456.1 378.0,456.0 378.6,456.0 379.2,456.0 379.8,455.9 380.4,455.9 381.0,455.9 381.6,455.8 382.2,455.8 382.8,455.8 383.4,455.7 384.1,455.7 384.7,455.7 385.3,455.6 385.9,455.6 386.5,455.6 387.1,455.5 387.7,455.5 388.3,455.5 388.9,455.4 389.5,455.4 390.1,455.4 390.7,455.3 391.3,455.3 391.9,455.3 392.5,455.2 393.1,455.2 393.7,455.2 394.3,455.1 394.9,455.1 395.5,455.1 396.1,455.0 396.7,455.0 397.3,455.0 397.9,454.9 398.5,454.9 399.1,454.9 399.7,454.8 400.3,454.8 400.9,454.8 401.5,454.7 402.1,454.7 402.7,454.7 403.3,454.6 403.9,454.6 404.5,454.6 405.1,454.6 405.7,454.5 406.3,454.5 406.9,454.5 407.5,454.4 408.1,454.4 408.7,454.4 409.3,454.3 409.9,454.3 410.5,454.3 411.1,454.2 411.7,454.2 412.3,454.2 412.9,454.1 413.5,454.1 414.1,454.1 414.7,454.0 415.3,454.0 415.9,454.0 416.5,453.9 417.1,453.9 417.7,453.9 418.3,453.9 418.9,453.8 419.6,453.8 420.2,453.8 420.8,453.7 421.4,453.7 422.0,453.7 422.6,453.6 423.2,453.6 423.8,453.6 424.4,453.5 425.0,453.5 425.6,453.5 426.2,453.5 426.8,453.4 427.4,453.4 428.0,453.4 428.6,453.3 429.2,453.3 429.8,453.3 430.4,453.2 431.0,453.2 431.6,453.2 432.2,453.1 432.8,453.1 433.4,453.1 434.0,453.1 434.6,453.0 435.2,453.0 435.8,453.0 436.4,452.9 437.0,452.9 437.6,452.9" stroke="#a56ae0" stroke-width="0.9" fill="none" />
<polyline points="293.2,386.3 293.3,404.0 293.4,416.0 293.6,423.9 293.7,429.5 293.8,433.8 293.9,436.7 294.0,438.4 294.2,440.4 294.3,441.7 294.4,442.3 294.5,443.4 294.6,443.9 294.8,444.7 294.9,445.1 295.0,445.8 295.1,446.0 295.2,446.2 295.4,446.7 295.5,446.9 295.6,447.2 295.7,447.8 295.8,447.7 296.0,448.0 296.1,448.4 296.2,448.7 296.3,448.4 296.4,448.8 296.6,448.8 296.7,448.9 296.8,449.2 296.9,449.2 297.1,449.6 297.2,449.5 297.3,449.9 297.4,449.7 297.5,449.8 297.7,450.4 297.8,450.5 297.9,450.6 298.0,450.2 298.1,450.6 298.3,450.6 298.4,450.9 298.5,450.9 298.6,451.1 298.7,451.2 298.9,451.1 299.0,451.2 299.1,451.1 299.2,451.3 299.3,451.2 299.5,451.4 299.6,451.4 299.7,451.6 299.8,452.0 299.9,451.6 300.1,451.7 300.2,451.8 300.3,452.0 300.4,452.0 300.5,452.3 300.7,451.9 300.8,452.0 300.9,452.1 301.0,452.2 301.1,451.7 301.3,451.6 301.4,452.1 301.5,451.6 301.6,451.8 301.7,451.9 301.9,451.8 302.0,451.5 302.1,451.4 302.2,451.8 302.3,451.5 302.5,451.8 302.6,451.4 302.7,451.6 302.8,451.2 302.9,451.1 303.1,451.4 303.2,451.0 303.3,451.4 303.4,451.5 303.5,451.2 303.7,451.5 303.8,451.4 303.9,451.2 304.0,451.1 304.2,451.3 304.3,451.4 304.4,450.9 304.5,451.2 304.6,450.8 304.8,450.8 304.9,451.1 305.0,451.0 305.1,450.9 305.2,450.8 305.8,450.8 306.4,450.7 307.0,450.6 307.6,450.3 308.2,450.5 308.8,450.4 309.4,450.2 310.0,450.4 310.6,450.3 311.2,449.9 311.9,450.1 312.5,450.1 313.1,450.3 313.7,450.1 314.3,449.9 314.9,450.2 315.5,449.8 316.1,449.8 316.7,450.1 317.3,449.8 317.9,449.8 318.5,449.7 319.1,449.9 319.7,449.6 320.3,449.6 320.9,450.0 321.5,450.0 322.1,449.6 322.7,449.4 323.3,449.8 323.9,449.7 324.5,449.6 325.1,449.7 325.7,449.7 326.3,449.7 326.9,449.7 327.5,449.5 328.1,449.7 328.7,449.7 329.3,449.4 329.9,449.8 330.5,449.5 331.1,449.4 331.7,449.7 332.3,449.7 332.9,449.4 333.5,449.7 334.1,449.7 334.7,449.6 335.3,449.4 335.9,449.7 336.5,449.6 337.1,449.6 337.7,449.3 338.3,449.5 338.9,449.3 339.5,449.7 340.1,449.6 340.7,449.4 341.3,449.2 341.9,449.5 342.5,449.6 343.1,449.7 343.7,449.4 344.3,449.6 344.9,449.3 345.5,449.2 346.1,449.6 346.7,449.6 347.4,449.3 348.0,449.3 348.6,449.2 349.2,449.5 349.8,449.6 350.4,449.5 351.0,449.2 351.6,449.5 352.2,449.5 352.8,449.5 353.4,449.4 354.0,449.4 354.6,449.1 355.2,449.6 355.8,449.7 356.4,449.1 357.0,449.2 357.6,449.1 358.2,449.4 358.8,449.1 359.4,449.1 360.0,449.5 360.6,449.2 361.2,449.2 361.8,449.3 362.4,448.6 363.0,448.7 363.6,448.7 364.2,449.5 364.8,449.6 365.4,449.3 366.0,449.5 366.6,449.1 367.2,449.6 367.8,449.1 368.4,449.2 369.0,449.1 369.6,449.1 370.2,449.1 370.8,449.3 371.4,449.6 372.0,449.2 372.6,449.5 373.2,449.4 373.8,449.2 374.4,449.3 375.0,449.3 375.6,449.0 376.2,449.2 376.8,449.4 377.4,449.4 378.0,449.1 378.6,449.3 379.2,449.1 379.8,449.3 380.4,449.4 381.0,449.2 381.6,449.1 382.2,449.4 382.8,449.6 383.4,449.5 384.1,449.5 384.7,449.5 385.3,450.0 385.9,449.6 386.5,449.5 387.1,450.0 387.7,449.8 388.3,449.8 388.9,449.7 389.5,449.2 390.1,449.2 390.7,449.0 391.3,449.5 391.9,449.5 392.5,449.4 393.1,449.4 393.7,449.4 394.3,448.9 394.9,447.5 395.5,447.9 396.1,447.7 396.7,449.3 397.3,449.3 397.9,449.2 398.5,449.1 399.1,449.1 399.7,449.2 400.3,449.3 400.9,449.2 401.5,449.4 402.1,449.1 402.7,449.0 403.3,449.2 403.9,449.4 404.5,449.3 405.1,449.2 405.7,449.1 406.3,448.9 406.9,449.2 407.5,448.9 408.1,449.0 408.7,449.1 409.3,449.2 409.9,449.1 410.5,449.0 411.1,449.1 411.7,449.0 412.3,449.1 412.9,449.2 413.5,449.1 414.1,449.0 414.7,449.3 415.3,449.1 415.9,449.1 416.5,448.8 417.1,448.8 417.7,449.1 418.3,448.8 418.9,448.4 419.6,448.7 420.2,448.6 420.8,449.3 421.4,448.8 422.0,448.9 422.6,448.8 423.2,448.9 423.8,448.9 424.4,448.9 425.0,449.0 425.6,449.2 426.2,449.0 426.8,449.3 427.4,449.2 428.0,448.8 428.6,449.3 429.2,449.2 429.8,449.2 430.4,448.8 431.0,449.2 431.6,449.3 432.2,448.8 432.8,449.2 433.4,448.8 434.0,448.9 434.6,448.8 435.2,448.7 435.8,448.9 436.4,448.8 437.0,449.2 437.6,448.8" stroke="#d9a21a" stroke-width="0.9" fill="none" />
<rect x="281.30" y="374.80" width="168.90" height="135.20" fill="none" stroke="#444" stroke-width="0.9"/>
<line x1="293.20" y1="510.00" x2="293.20" y2="512.60" stroke="#444" stroke-width="0.9" />
<line x1="293.20" y1="374.80" x2="293.20" y2="372.20" stroke="#444" stroke-width="0.9" />
<line x1="317.27" y1="510.00" x2="317.27" y2="512.60" stroke="#444" stroke-width="0.9" />
<line x1="317.27" y1="374.80" x2="317.27" y2="372.20" stroke="#444" stroke-width="0.9" />
<line x1="341.33" y1="510.00" x2="341.33" y2="512.60" stroke="#444" stroke-width="0.9" />
<line x1="341.33" y1="374.80" x2="341.33" y2="372.20" stroke="#444" stroke-width="0.9" />
<line x1="365.40" y1="510.00" x2="365.40" y2="512.60" stroke="#444" stroke-width="0.9" />
<line x1="365.40" y1="374.80" x2="365.40" y2="372.20" stroke="#444" stroke-width="0.9" />
<line x1="389.47" y1="510.00" x2="389.47" y2="512.60" stroke="#444" stroke-width="0.9" />
<line x1="389.47" y1="374.80" x2="389.47" y2="372.20" stroke="#444" stroke-width="0.9" />
<line x1="413.53" y1="510.00" x2="413.53" y2="512.60" stroke="#444" stroke-width="0.9" />
<line x1="413.53" y1="374.80" x2="413.53" y2="372.20" stroke="#444" stroke-width="0.9" />
<line x1="437.60" y1="510.00" x2="437.60" y2="512.60" stroke="#444" stroke-width="0.9" />
<line x1="437.60" y1="374.80" x2="437.60" y2="372.20" stroke="#444" stroke-width="0.9" />
<line x1="305.23" y1="510.00" x2="305.23" y2="511.50" stroke="#444" stroke-width="0.8" />
<line x1="305.23" y1="374.80" x2="305.23" y2="373.30" stroke="#444" stroke-width="0.8" />
<line x1="329.30" y1="510.00" x2="329.30" y2="511.50" stroke="#444" stroke-width="0.8" />
<line x1="329.30" y1="374.80" x2="329.30" y2="373.30" stroke="#444" stroke-width="0.8" />
<line x1="353.37" y1="510.00" x2="353.37" y2="511.50" stroke="#444" stroke-width="0.8" />
<line x1="353.37" y1="374.80" x2="353.37" y2="373.30" stroke="#444" stroke-width="0.8" />
<line x1="377.43" y1="510.00" x2="377.43" y2="511.50" stroke="#444" stroke-width="0.8" />
<line x1="377.43" y1="374.80" x2="377.43" y2="373.30" stroke="#444" stroke-width="0.8" />
<line x1="401.50" y1="510.00" x2="401.50" y2="511.50" stroke="#444" stroke-width="0.8" />
<line x1="401.50" y1="374.80" x2="401.50" y2="373.30" stroke="#444" stroke-width="0.8" />
<line x1="425.57" y1="510.00" x2="425.57" y2="511.50" stroke="#444" stroke-width="0.8" />
<line x1="425.57" y1="374.80" x2="425.57" y2="373.30" stroke="#444" stroke-width="0.8" />
<line x1="281.30" y1="510.00" x2="278.70" y2="510.00" stroke="#444" stroke-width="0.9" />
<line x1="450.20" y1="510.00" x2="452.80" y2="510.00" stroke="#444" stroke-width="0.9" />
<line x1="281.30" y1="485.48" x2="278.70" y2="485.48" stroke="#444" stroke-width="0.9" />
<line x1="450.20" y1="485.48" x2="452.80" y2="485.48" stroke="#444" stroke-width="0.9" />
<line x1="281.30" y1="460.96" x2="278.70" y2="460.96" stroke="#444" stroke-width="0.9" />
<line x1="450.20" y1="460.96" x2="452.80" y2="460.96" stroke="#444" stroke-width="0.9" />
<line x1="281.30" y1="436.44" x2="278.70" y2="436.44" stroke="#444" stroke-width="0.9" />
<line x1="450.20" y1="436.44" x2="452.80" y2="436.44" stroke="#444" stroke-width="0.9" />
<line x1="281.30" y1="411.92" x2="278.70" y2="411.92" stroke="#444" stroke-width="0.9" />
<line x1="450.20" y1="411.92" x2="452.80" y2="411.92" stroke="#444" stroke-width="0.9" />
<line x1="281.30" y1="387.40" x2="278.70" y2="387.40" stroke="#444" stroke-width="0.9" />
<line x1="450.20" y1="387.40" x2="452.80" y2="387.40" stroke="#444" stroke-width="0.9" />
<line x1="281.30" y1="497.74" x2="279.80" y2="497.74" stroke="#444" stroke-width="0.8" />
<line x1="450.20" y1="497.74" x2="451.70" y2="497.74" stroke="#444" stroke-width="0.8" />
<line x1="281.30" y1="473.22" x2="279.80" y2="473.22" stroke="#444" stroke-width="0.8" />
<line x1="450.20" y1="473.22" x2="451.70" y2="473.22" stroke="#444" stroke-width="0.8" />
<line x1="281.30" y1="448.70" x2="279.80" y2="448.70" stroke="#444" stroke-width="0.8" />
<line x1="450.20" y1="448.70" x2="451.70" y2="448.70" stroke="#444" stroke-width="0.8" />
<line x1="281.30" y1="424.18" x2="279.80" y2="424.18" stroke="#444" stroke-width="0.8" />
<line x1="450.20" y1="424.18" x2="451.70" y2="424.18" stroke="#444" stroke-width="0.8" />
<line x1="281.30" y1="399.66" x2="279.80" y2="399.66" stroke="#444" stroke-width="0.8" />
<line x1="450.20" y1="399.66" x2="451.70" y2="399.66" stroke="#444" stroke-width="0.8" />
<text x="293.20" y="523.28" font-size="10.5" text-anchor="middle" fill="#111" >0</text>
<text x="317.27" y="523.28" font-size="10.5" text-anchor="middle" fill="#111" >10</text>
<text x="341.33" y="523.28" font-size="10.5" text-anchor="middle" fill="#111" >20</text>
<text x="365.40" y="523.28" font-size="10.5" text-anchor="middle" fill="#111" >30</text>
<text x="389.47" y="523.28" font-size="10.5" text-anchor="middle" fill="#111" >40</text>
<text x="413.53" y="523.28" font-size="10.5" text-anchor="middle" fill="#111" >50</text>
<text x="437.60" y="523.28" font-size="10.5" text-anchor="middle" fill="#111" >60</text>
<text x="277.50" y="513.78" font-size="10.5" text-anchor="end" fill="#111" >0.1</text>
<text x="277.50" y="489.26" font-size="10.5" text-anchor="end" fill="#111" >0.2</text>
<text x="277.50" y="464.74" font-size="10.5" text-anchor="end" fill="#111" >0.3</text>
<text x="277.50" y="440.22" font-size="10.5" text-anchor="end" fill="#111" >0.4</text>
<text x="277.50" y="415.70" font-size="10.5" text-anchor="end" fill="#111" >0.5</text>
<text x="277.50" y="391.18" font-size="10.5" text-anchor="end" fill="#111" >0.6</text>
<text x="365.50" y="536.14" font-size="11.5" text-anchor="middle" fill="#111" >Time (s)</text>
<text transform="translate(257.5,443) rotate(-90)" font-size="11.5" text-anchor="middle" fill="#111">Current (μA)</text>
<text x="305.10" y="386.47" font-size="6.3" text-anchor="start" fill="#222" >[Part B]</text>
<text x="305.10" y="400.57" font-size="6.3" text-anchor="start" fill="#222" >[Subcutaneous glucose = 12 mM]</text>
<line x1="420.40" y1="382.80" x2="432.00" y2="382.80" stroke="#8c8c8c" stroke-width="0.9" />
<text x="434.40" y="384.89" font-size="5.8" text-anchor="start" fill="#222" >0</text>
<line x1="420.40" y1="389.95" x2="432.00" y2="389.95" stroke="#e8474a" stroke-width="0.9" />
<text x="434.40" y="392.04" font-size="5.8" text-anchor="start" fill="#222" >1</text>
<line x1="420.40" y1="397.10" x2="432.00" y2="397.10" stroke="#3f7fe0" stroke-width="0.9" />
<text x="434.40" y="399.19" font-size="5.8" text-anchor="start" fill="#222" >2</text>
<line x1="420.40" y1="404.25" x2="432.00" y2="404.25" stroke="#3aa56a" stroke-width="0.9" />
<text x="434.40" y="406.34" font-size="5.8" text-anchor="start" fill="#222" >3</text>
<line x1="420.40" y1="411.40" x2="432.00" y2="411.40" stroke="#a56ae0" stroke-width="0.9" />
<text x="434.40" y="413.49" font-size="5.8" text-anchor="start" fill="#222" >4</text>
<line x1="420.40" y1="418.55" x2="432.00" y2="418.55" stroke="#d9a21a" stroke-width="0.9" />
<text x="434.40" y="420.64" font-size="5.8" text-anchor="start" fill="#222" >5</text>
<line x1="442.80" y1="488.70" x2="442.80" y2="452.00" stroke="#777" stroke-width="1.0" />
<path d="M441,452.5 L442.8,447.5 L444.6,452.5 Z" fill="#777"/>
<text x="241.50" y="555.38" font-size="20.5" text-anchor="start" fill="#000" font-weight="bold" >h</text>
<rect x="281.30" y="555.00" width="168.90" height="136.00" fill="none" stroke="#444" stroke-width="0.9"/>
<line x1="295.30" y1="691.00" x2="295.30" y2="693.60" stroke="#444" stroke-width="0.9" />
<line x1="295.30" y1="555.00" x2="295.30" y2="552.40" stroke="#444" stroke-width="0.9" />
<line x1="323.48" y1="691.00" x2="323.48" y2="693.60" stroke="#444" stroke-width="0.9" />
<line x1="323.48" y1="555.00" x2="323.48" y2="552.40" stroke="#444" stroke-width="0.9" />
<line x1="351.66" y1="691.00" x2="351.66" y2="693.60" stroke="#444" stroke-width="0.9" />
<line x1="351.66" y1="555.00" x2="351.66" y2="552.40" stroke="#444" stroke-width="0.9" />
<line x1="379.84" y1="691.00" x2="379.84" y2="693.60" stroke="#444" stroke-width="0.9" />
<line x1="379.84" y1="555.00" x2="379.84" y2="552.40" stroke="#444" stroke-width="0.9" />
<line x1="408.02" y1="691.00" x2="408.02" y2="693.60" stroke="#444" stroke-width="0.9" />
<line x1="408.02" y1="555.00" x2="408.02" y2="552.40" stroke="#444" stroke-width="0.9" />
<line x1="436.20" y1="691.00" x2="436.20" y2="693.60" stroke="#444" stroke-width="0.9" />
<line x1="436.20" y1="555.00" x2="436.20" y2="552.40" stroke="#444" stroke-width="0.9" />
<line x1="309.39" y1="691.00" x2="309.39" y2="692.50" stroke="#444" stroke-width="0.8" />
<line x1="309.39" y1="555.00" x2="309.39" y2="553.50" stroke="#444" stroke-width="0.8" />
<line x1="337.57" y1="691.00" x2="337.57" y2="692.50" stroke="#444" stroke-width="0.8" />
<line x1="337.57" y1="555.00" x2="337.57" y2="553.50" stroke="#444" stroke-width="0.8" />
<line x1="365.75" y1="691.00" x2="365.75" y2="692.50" stroke="#444" stroke-width="0.8" />
<line x1="365.75" y1="555.00" x2="365.75" y2="553.50" stroke="#444" stroke-width="0.8" />
<line x1="393.93" y1="691.00" x2="393.93" y2="692.50" stroke="#444" stroke-width="0.8" />
<line x1="393.93" y1="555.00" x2="393.93" y2="553.50" stroke="#444" stroke-width="0.8" />
<line x1="422.11" y1="691.00" x2="422.11" y2="692.50" stroke="#444" stroke-width="0.8" />
<line x1="422.11" y1="555.00" x2="422.11" y2="553.50" stroke="#444" stroke-width="0.8" />
<line x1="281.30" y1="678.40" x2="278.70" y2="678.40" stroke="#444" stroke-width="0.9" />
<line x1="450.20" y1="678.40" x2="452.80" y2="678.40" stroke="#444" stroke-width="0.9" />
<line x1="281.30" y1="653.72" x2="278.70" y2="653.72" stroke="#444" stroke-width="0.9" />
<line x1="450.20" y1="653.72" x2="452.80" y2="653.72" stroke="#444" stroke-width="0.9" />
<line x1="281.30" y1="629.04" x2="278.70" y2="629.04" stroke="#444" stroke-width="0.9" />
<line x1="450.20" y1="629.04" x2="452.80" y2="629.04" stroke="#444" stroke-width="0.9" />
<line x1="281.30" y1="604.36" x2="278.70" y2="604.36" stroke="#444" stroke-width="0.9" />
<line x1="450.20" y1="604.36" x2="452.80" y2="604.36" stroke="#444" stroke-width="0.9" />
<line x1="281.30" y1="579.68" x2="278.70" y2="579.68" stroke="#444" stroke-width="0.9" />
<line x1="450.20" y1="579.68" x2="452.80" y2="579.68" stroke="#444" stroke-width="0.9" />
<line x1="281.30" y1="555.00" x2="278.70" y2="555.00" stroke="#444" stroke-width="0.9" />
<line x1="450.20" y1="555.00" x2="452.80" y2="555.00" stroke="#444" stroke-width="0.9" />
<line x1="281.30" y1="666.06" x2="279.80" y2="666.06" stroke="#444" stroke-width="0.8" />
<line x1="450.20" y1="666.06" x2="451.70" y2="666.06" stroke="#444" stroke-width="0.8" />
<line x1="281.30" y1="641.38" x2="279.80" y2="641.38" stroke="#444" stroke-width="0.8" />
<line x1="450.20" y1="641.38" x2="451.70" y2="641.38" stroke="#444" stroke-width="0.8" />
<line x1="281.30" y1="616.70" x2="279.80" y2="616.70" stroke="#444" stroke-width="0.8" />
<line x1="450.20" y1="616.70" x2="451.70" y2="616.70" stroke="#444" stroke-width="0.8" />
<line x1="281.30" y1="592.02" x2="279.80" y2="592.02" stroke="#444" stroke-width="0.8" />
<line x1="450.20" y1="592.02" x2="451.70" y2="592.02" stroke="#444" stroke-width="0.8" />
<line x1="281.30" y1="567.34" x2="279.80" y2="567.34" stroke="#444" stroke-width="0.8" />
<line x1="450.20" y1="567.34" x2="451.70" y2="567.34" stroke="#444" stroke-width="0.8" />
<text x="295.30" y="704.28" font-size="10.5" text-anchor="middle" fill="#111" >5</text>
<text x="323.48" y="704.28" font-size="10.5" text-anchor="middle" fill="#111" >10</text>
<text x="351.66" y="704.28" font-size="10.5" text-anchor="middle" fill="#111" >15</text>
<text x="379.84" y="704.28" font-size="10.5" text-anchor="middle" fill="#111" >20</text>
<text x="408.02" y="704.28" font-size="10.5" text-anchor="middle" fill="#111" >25</text>
<text x="436.20" y="704.28" font-size="10.5" text-anchor="middle" fill="#111" >30</text>
<text x="277.50" y="682.18" font-size="10.5" text-anchor="end" fill="#111" >0</text>
<text x="277.50" y="657.50" font-size="10.5" text-anchor="end" fill="#111" >100</text>
<text x="277.50" y="632.82" font-size="10.5" text-anchor="end" fill="#111" >200</text>
<text x="277.50" y="608.14" font-size="10.5" text-anchor="end" fill="#111" >300</text>
<text x="277.50" y="583.46" font-size="10.5" text-anchor="end" fill="#111" >400</text>
<text x="277.50" y="558.78" font-size="10.5" text-anchor="end" fill="#111" >500</text>
<line x1="299.81" y1="666.93" x2="437.33" y2="583.54" stroke="#24438c" stroke-width="0.9" />
<line x1="299.81" y1="666.18" x2="437.33" y2="592.24" stroke="#d97ef0" stroke-width="0.9" />
<line x1="300.94" y1="672.97" x2="300.94" y2="664.09" stroke="#d97ef0" stroke-width="0.8" />
<line x1="299.44" y1="672.97" x2="302.44" y2="672.97" stroke="#d97ef0" stroke-width="0.8" />
<line x1="299.44" y1="664.09" x2="302.44" y2="664.09" stroke="#d97ef0" stroke-width="0.8" />
<circle cx="300.94" cy="668.53" r="1.9" fill="url(#pp)"/>
<line x1="334.75" y1="653.72" x2="334.75" y2="641.38" stroke="#d97ef0" stroke-width="0.8" />
<line x1="333.25" y1="653.72" x2="336.25" y2="653.72" stroke="#d97ef0" stroke-width="0.8" />
<line x1="333.25" y1="641.38" x2="336.25" y2="641.38" stroke="#d97ef0" stroke-width="0.8" />
<circle cx="334.75" cy="647.55" r="1.9" fill="url(#pp)"/>
<line x1="368.57" y1="641.87" x2="368.57" y2="621.14" stroke="#d97ef0" stroke-width="0.8" />
<line x1="367.07" y1="641.87" x2="370.07" y2="641.87" stroke="#d97ef0" stroke-width="0.8" />
<line x1="367.07" y1="621.14" x2="370.07" y2="621.14" stroke="#d97ef0" stroke-width="0.8" />
<circle cx="368.57" cy="631.51" r="1.9" fill="url(#pp)"/>
<line x1="402.38" y1="625.34" x2="402.38" y2="603.13" stroke="#d97ef0" stroke-width="0.8" />
<line x1="400.88" y1="625.34" x2="403.88" y2="625.34" stroke="#d97ef0" stroke-width="0.8" />
<line x1="400.88" y1="603.13" x2="403.88" y2="603.13" stroke="#d97ef0" stroke-width="0.8" />
<circle cx="402.38" cy="614.23" r="1.9" fill="url(#pp)"/>
<line x1="436.20" y1="598.19" x2="436.20" y2="583.38" stroke="#d97ef0" stroke-width="0.8" />
<line x1="434.70" y1="598.19" x2="437.70" y2="598.19" stroke="#d97ef0" stroke-width="0.8" />
<line x1="434.70" y1="583.38" x2="437.70" y2="583.38" stroke="#d97ef0" stroke-width="0.8" />
<circle cx="436.20" cy="590.79" r="1.9" fill="url(#pp)"/>
<line x1="300.94" y1="672.72" x2="300.94" y2="661.86" stroke="#24438c" stroke-width="1.0" />
<line x1="299.44" y1="672.72" x2="302.44" y2="672.72" stroke="#24438c" stroke-width="0.8" />
<line x1="299.44" y1="661.86" x2="302.44" y2="661.86" stroke="#24438c" stroke-width="0.8" />
<circle cx="300.94" cy="667.29" r="1.9" fill="url(#pb)"/>
<line x1="334.75" y1="653.23" x2="334.75" y2="634.47" stroke="#24438c" stroke-width="1.0" />
<line x1="333.25" y1="653.23" x2="336.25" y2="653.23" stroke="#24438c" stroke-width="0.8" />
<line x1="333.25" y1="634.47" x2="336.25" y2="634.47" stroke="#24438c" stroke-width="0.8" />
<circle cx="334.75" cy="643.85" r="1.9" fill="url(#pb)"/>
<line x1="368.57" y1="635.95" x2="368.57" y2="611.27" stroke="#24438c" stroke-width="1.0" />
<line x1="367.07" y1="635.95" x2="370.07" y2="635.95" stroke="#24438c" stroke-width="0.8" />
<line x1="367.07" y1="611.27" x2="370.07" y2="611.27" stroke="#24438c" stroke-width="0.8" />
<circle cx="368.57" cy="623.61" r="1.9" fill="url(#pb)"/>
<line x1="402.38" y1="623.36" x2="402.38" y2="597.70" stroke="#24438c" stroke-width="1.0" />
<line x1="400.88" y1="623.36" x2="403.88" y2="623.36" stroke="#24438c" stroke-width="0.8" />
<line x1="400.88" y1="597.70" x2="403.88" y2="597.70" stroke="#24438c" stroke-width="0.8" />
<circle cx="402.38" cy="610.53" r="1.9" fill="url(#pb)"/>
<line x1="436.20" y1="595.72" x2="436.20" y2="567.59" stroke="#24438c" stroke-width="1.0" />
<line x1="434.70" y1="595.72" x2="437.70" y2="595.72" stroke="#24438c" stroke-width="0.8" />
<line x1="434.70" y1="567.59" x2="437.70" y2="567.59" stroke="#24438c" stroke-width="0.8" />
<circle cx="436.20" cy="581.65" r="1.9" fill="url(#pb)"/>
<line x1="283.00" y1="561.30" x2="297.80" y2="561.30" stroke="#24438c" stroke-width="0.9" />
<text x="299.90" y="563.55" font-size="6.25" text-anchor="start" fill="#222" >With pH calibration</text>
<line x1="283.00" y1="569.00" x2="297.80" y2="569.00" stroke="#d97ef0" stroke-width="0.9" />
<text x="299.90" y="571.25" font-size="6.25" text-anchor="start" fill="#222" >Without pH calibration</text>
<text x="312.90" y="599.60" font-size="8.9" text-anchor="start" fill="#2a4a9c" >y=13.848x-33.838</text>
<text x="312.90" y="611.50" font-size="8.9" text-anchor="start" fill="#2a4a9c" >R<tspan font-size="6" dy="-3.5">2</tspan><tspan dy="3.5">=0.988</tspan></text>
<text x="371.40" y="657.00" font-size="8.9" text-anchor="start" fill="#d275ee" >y=12.606x-31.606</text>
<text x="371.40" y="667.90" font-size="8.9" text-anchor="start" fill="#d275ee" >R<tspan font-size="6" dy="-3.5">2</tspan><tspan dy="3.5">=0.993</tspan></text>
<text x="365.50" y="716.64" font-size="11.5" text-anchor="middle" fill="#111" >Subdermal glucose (mM)</text>
<text transform="translate(255.5,621) rotate(-90)" font-size="11.5" text-anchor="middle" fill="#111">Extracted glucose (μM)</text>
<text x="480.50" y="555.38" font-size="20.5" text-anchor="start" fill="#000" font-weight="bold" >i</text>
<rect x="513.80" y="608.84" width="167.20" height="27.12" fill="#dcedf8"/>
<rect x="513.80" y="554.60" width="167.20" height="135.60" fill="none" stroke="#444" stroke-width="0.9"/>
<line x1="530.60" y1="690.20" x2="530.60" y2="692.80" stroke="#444" stroke-width="0.9" />
<line x1="530.60" y1="554.60" x2="530.60" y2="552.00" stroke="#444" stroke-width="0.9" />
<line x1="564.33" y1="690.20" x2="564.33" y2="692.80" stroke="#444" stroke-width="0.9" />
<line x1="564.33" y1="554.60" x2="564.33" y2="552.00" stroke="#444" stroke-width="0.9" />
<line x1="598.05" y1="690.20" x2="598.05" y2="692.80" stroke="#444" stroke-width="0.9" />
<line x1="598.05" y1="554.60" x2="598.05" y2="552.00" stroke="#444" stroke-width="0.9" />
<line x1="631.77" y1="690.20" x2="631.77" y2="692.80" stroke="#444" stroke-width="0.9" />
<line x1="631.77" y1="554.60" x2="631.77" y2="552.00" stroke="#444" stroke-width="0.9" />
<line x1="665.50" y1="690.20" x2="665.50" y2="692.80" stroke="#444" stroke-width="0.9" />
<line x1="665.50" y1="554.60" x2="665.50" y2="552.00" stroke="#444" stroke-width="0.9" />
<line x1="547.46" y1="690.20" x2="547.46" y2="691.70" stroke="#444" stroke-width="0.8" />
<line x1="547.46" y1="554.60" x2="547.46" y2="553.10" stroke="#444" stroke-width="0.8" />
<line x1="581.19" y1="690.20" x2="581.19" y2="691.70" stroke="#444" stroke-width="0.8" />
<line x1="581.19" y1="554.60" x2="581.19" y2="553.10" stroke="#444" stroke-width="0.8" />
<line x1="614.91" y1="690.20" x2="614.91" y2="691.70" stroke="#444" stroke-width="0.8" />
<line x1="614.91" y1="554.60" x2="614.91" y2="553.10" stroke="#444" stroke-width="0.8" />
<line x1="648.64" y1="690.20" x2="648.64" y2="691.70" stroke="#444" stroke-width="0.8" />
<line x1="648.64" y1="554.60" x2="648.64" y2="553.10" stroke="#444" stroke-width="0.8" />
<line x1="513.74" y1="690.20" x2="513.74" y2="691.70" stroke="#444" stroke-width="0.8" />
<line x1="513.74" y1="554.60" x2="513.74" y2="553.10" stroke="#444" stroke-width="0.8" />
<line x1="513.80" y1="690.20" x2="511.20" y2="690.20" stroke="#444" stroke-width="0.9" />
<line x1="681.00" y1="690.20" x2="683.60" y2="690.20" stroke="#444" stroke-width="0.9" />
<line x1="513.80" y1="667.60" x2="511.20" y2="667.60" stroke="#444" stroke-width="0.9" />
<line x1="681.00" y1="667.60" x2="683.60" y2="667.60" stroke="#444" stroke-width="0.9" />
<line x1="513.80" y1="645.00" x2="511.20" y2="645.00" stroke="#444" stroke-width="0.9" />
<line x1="681.00" y1="645.00" x2="683.60" y2="645.00" stroke="#444" stroke-width="0.9" />
<line x1="513.80" y1="622.40" x2="511.20" y2="622.40" stroke="#444" stroke-width="0.9" />
<line x1="681.00" y1="622.40" x2="683.60" y2="622.40" stroke="#444" stroke-width="0.9" />
<line x1="513.80" y1="599.80" x2="511.20" y2="599.80" stroke="#444" stroke-width="0.9" />
<line x1="681.00" y1="599.80" x2="683.60" y2="599.80" stroke="#444" stroke-width="0.9" />
<line x1="513.80" y1="577.20" x2="511.20" y2="577.20" stroke="#444" stroke-width="0.9" />
<line x1="681.00" y1="577.20" x2="683.60" y2="577.20" stroke="#444" stroke-width="0.9" />
<line x1="513.80" y1="554.60" x2="511.20" y2="554.60" stroke="#444" stroke-width="0.9" />
<line x1="681.00" y1="554.60" x2="683.60" y2="554.60" stroke="#444" stroke-width="0.9" />
<line x1="513.80" y1="678.90" x2="512.30" y2="678.90" stroke="#444" stroke-width="0.8" />
<line x1="681.00" y1="678.90" x2="682.50" y2="678.90" stroke="#444" stroke-width="0.8" />
<line x1="513.80" y1="656.30" x2="512.30" y2="656.30" stroke="#444" stroke-width="0.8" />
<line x1="681.00" y1="656.30" x2="682.50" y2="656.30" stroke="#444" stroke-width="0.8" />
<line x1="513.80" y1="633.70" x2="512.30" y2="633.70" stroke="#444" stroke-width="0.8" />
<line x1="681.00" y1="633.70" x2="682.50" y2="633.70" stroke="#444" stroke-width="0.8" />
<line x1="513.80" y1="611.10" x2="512.30" y2="611.10" stroke="#444" stroke-width="0.8" />
<line x1="681.00" y1="611.10" x2="682.50" y2="611.10" stroke="#444" stroke-width="0.8" />
<line x1="513.80" y1="588.50" x2="512.30" y2="588.50" stroke="#444" stroke-width="0.8" />
<line x1="681.00" y1="588.50" x2="682.50" y2="588.50" stroke="#444" stroke-width="0.8" />
<line x1="513.80" y1="565.90" x2="512.30" y2="565.90" stroke="#444" stroke-width="0.8" />
<line x1="681.00" y1="565.90" x2="682.50" y2="565.90" stroke="#444" stroke-width="0.8" />
<text x="530.60" y="703.48" font-size="10.5" text-anchor="middle" fill="#111" >5</text>
<text x="564.33" y="703.48" font-size="10.5" text-anchor="middle" fill="#111" >10</text>
<text x="598.05" y="703.48" font-size="10.5" text-anchor="middle" fill="#111" >15</text>
<text x="631.77" y="703.48" font-size="10.5" text-anchor="middle" fill="#111" >20</text>
<text x="665.50" y="703.48" font-size="10.5" text-anchor="middle" fill="#111" >25</text>
<text x="510.00" y="693.98" font-size="10.5" text-anchor="end" fill="#111" >−30</text>
<text x="510.00" y="671.38" font-size="10.5" text-anchor="end" fill="#111" >−20</text>
<text x="510.00" y="648.78" font-size="10.5" text-anchor="end" fill="#111" >−10</text>
<text x="510.00" y="626.18" font-size="10.5" text-anchor="end" fill="#111" >0</text>
<text x="510.00" y="603.58" font-size="10.5" text-anchor="end" fill="#111" >10</text>
<text x="510.00" y="580.98" font-size="10.5" text-anchor="end" fill="#111" >20</text>
<text x="510.00" y="558.38" font-size="10.5" text-anchor="end" fill="#111" >30</text>
<circle cx="530.60" cy="606.58" r="2.0" fill="url(#pp)"/>
<circle cx="550.84" cy="651.10" r="2.0" fill="url(#pp)"/>
<circle cx="577.82" cy="650.42" r="2.0" fill="url(#pp)"/>
<circle cx="618.28" cy="575.84" r="2.0" fill="url(#pp)"/>
<circle cx="665.50" cy="614.94" r="2.0" fill="url(#pp)"/>
<circle cx="530.60" cy="613.81" r="2.0" fill="url(#pb)"/>
<circle cx="550.84" cy="625.79" r="2.0" fill="url(#pb)"/>
<circle cx="577.82" cy="612.00" r="2.0" fill="url(#pb)"/>
<circle cx="618.28" cy="632.12" r="2.0" fill="url(#pb)"/>
<circle cx="665.50" cy="621.50" r="2.0" fill="url(#pb)"/>
<circle cx="523.8" cy="560.3" r="1.9" fill="url(#pb)"/>
<circle cx="523.8" cy="568.4" r="1.9" fill="url(#pp)"/>
<text x="532.90" y="562.57" font-size="6.3" text-anchor="start" fill="#222" >With pH calibration (MAPE: 2.92%)</text>
<text x="532.90" y="570.67" font-size="6.3" text-anchor="start" fill="#222" >Without pH calibration (MAPE: 11.20%)</text>
<text x="597.70" y="716.14" font-size="11.5" text-anchor="middle" fill="#111" >Glucose concentration (mM)</text>
<text transform="translate(486.6,622.4) rotate(-90)" font-size="11.5" text-anchor="middle" fill="#111">Glucose prediction error (%)</text>
</svg></body></html>
